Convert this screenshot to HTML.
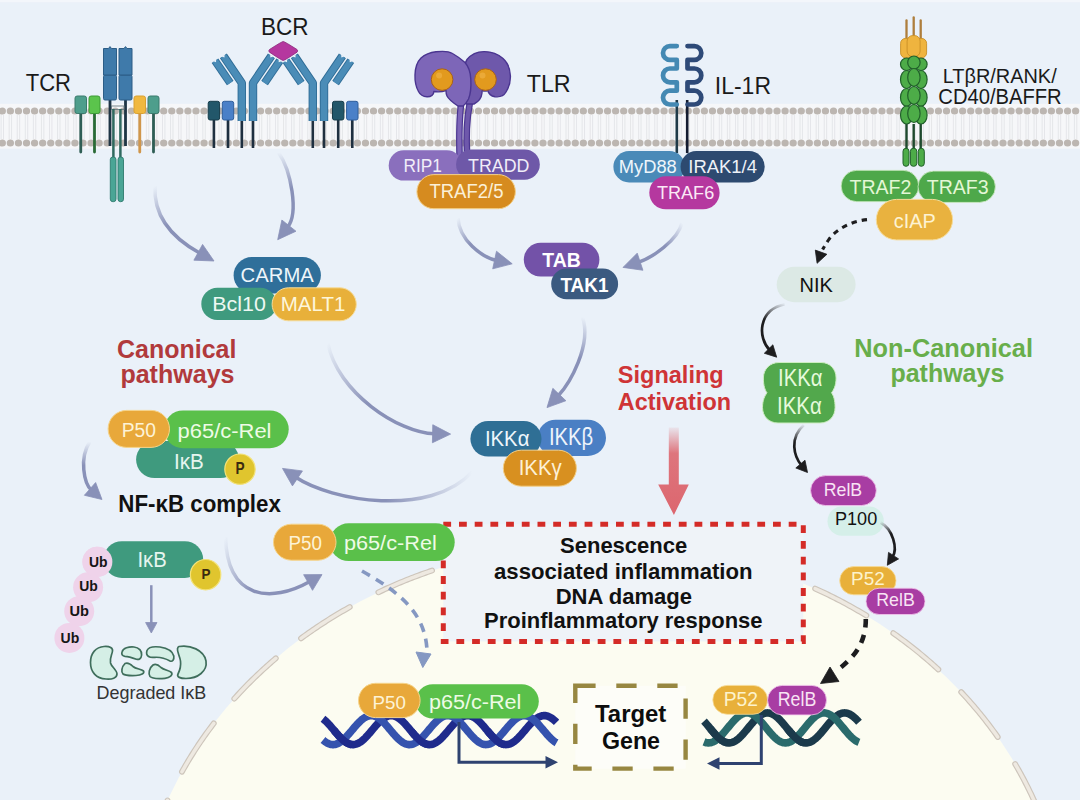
<!DOCTYPE html>
<html><head><meta charset="utf-8"><title>NF-kB signaling pathways</title>
<style>html,body{margin:0;padding:0;background:#eaf1f9;width:1080px;height:800px;overflow:hidden;font-family:'Liberation Sans', sans-serif;}</style>
</head><body>
<svg width="1080" height="800" viewBox="0 0 1080 800" style="display:block;font-family:'Liberation Sans', sans-serif"><defs><linearGradient id="ag1" gradientUnits="userSpaceOnUse" x1="155" y1="186" x2="198.24" y2="252.3"><stop offset="0.0" stop-color="#8991b8" stop-opacity="0.0"/><stop offset="0.5" stop-color="#8991b8" stop-opacity="1"/></linearGradient><linearGradient id="ag2" gradientUnits="userSpaceOnUse" x1="278.5" y1="152.4" x2="288.92" y2="225.62"><stop offset="0.0" stop-color="#8991b8" stop-opacity="0.0"/><stop offset="0.5" stop-color="#8991b8" stop-opacity="1"/></linearGradient><linearGradient id="ag3" gradientUnits="userSpaceOnUse" x1="458" y1="218" x2="494.6" y2="260.02"><stop offset="0.0" stop-color="#8991b8" stop-opacity="0.0"/><stop offset="0.5" stop-color="#8991b8" stop-opacity="1"/></linearGradient><linearGradient id="ag4" gradientUnits="userSpaceOnUse" x1="682" y1="222.9" x2="640.08" y2="261.71"><stop offset="0.0" stop-color="#8991b8" stop-opacity="0.0"/><stop offset="0.5" stop-color="#8991b8" stop-opacity="1"/></linearGradient><linearGradient id="ag5" gradientUnits="userSpaceOnUse" x1="582.5" y1="317" x2="559.38" y2="394.53"><stop offset="0.0" stop-color="#8991b8" stop-opacity="0.0"/><stop offset="0.5" stop-color="#8991b8" stop-opacity="1"/></linearGradient><linearGradient id="ag6" gradientUnits="userSpaceOnUse" x1="327.9" y1="343.3" x2="432.6" y2="433.74"><stop offset="0.0" stop-color="#8991b8" stop-opacity="0.0"/><stop offset="0.5" stop-color="#8991b8" stop-opacity="1"/></linearGradient><linearGradient id="ag7" gradientUnits="userSpaceOnUse" x1="472.2" y1="471.9" x2="297.45" y2="478.42"><stop offset="0.0" stop-color="#8991b8" stop-opacity="0.0"/><stop offset="0.5" stop-color="#8991b8" stop-opacity="1"/></linearGradient><linearGradient id="ag8" gradientUnits="userSpaceOnUse" x1="89.8" y1="441.7" x2="90.01" y2="488.9"><stop offset="0.0" stop-color="#8991b8" stop-opacity="0.0"/><stop offset="0.5" stop-color="#8991b8" stop-opacity="1"/></linearGradient><linearGradient id="ag9" gradientUnits="userSpaceOnUse" x1="225.5" y1="537" x2="308.09" y2="582.5"><stop offset="0.0" stop-color="#8991b8" stop-opacity="0.0"/><stop offset="0.5" stop-color="#8991b8" stop-opacity="1"/></linearGradient><linearGradient id="redg" x1="0" y1="427" x2="0" y2="515" gradientUnits="userSpaceOnUse"><stop offset="0" stop-color="#dd6a72" stop-opacity="0.08"/><stop offset="0.3" stop-color="#dd6a72" stop-opacity="0.92"/><stop offset="1" stop-color="#dc666e"/></linearGradient><linearGradient id="ag10" gradientUnits="userSpaceOnUse" x1="784.6" y1="304.2" x2="768.59" y2="349.05"><stop offset="0.0" stop-color="#1d1d1f" stop-opacity="0.05"/><stop offset="0.45" stop-color="#1d1d1f" stop-opacity="1"/></linearGradient><linearGradient id="ag11" gradientUnits="userSpaceOnUse" x1="803.8" y1="425" x2="800.4" y2="464.1"><stop offset="0.0" stop-color="#1d1d1f" stop-opacity="0.05"/><stop offset="0.45" stop-color="#1d1d1f" stop-opacity="1"/></linearGradient><linearGradient id="ag12" gradientUnits="userSpaceOnUse" x1="880.5" y1="522.5" x2="893.56" y2="555.65"><stop offset="0.0" stop-color="#1d1d1f" stop-opacity="0.05"/><stop offset="0.4" stop-color="#1d1d1f" stop-opacity="1"/></linearGradient></defs><rect width="1080" height="800" fill="#eaf1f9"/>
<rect width="1080" height="2.2" fill="#f3f6fb"/>
<ellipse cx="600.77" cy="949.98" rx="465.84" ry="407.07" fill="#fcfcf1"/>
<path d="M134.98,943.84 L135.03,941.41 L135.1,939.05 L135.18,936.62 L135.28,934.19 L135.4,931.76 L135.53,929.34 L135.67,926.97 L135.84,924.55 L136.02,922.12 L136.22,919.7 L136.43,917.34 L136.66,914.92 L136.91,912.5 L137.17,910.08 L137.45,907.73 L137.74,905.31 L138.06,902.9 L138.39,900.48 L138.72,898.14 L139.09,895.73 L139.46,893.32 L139.85,890.98 L140.26,888.57 L140.69,886.17" fill="none" stroke="#cdc5bb" stroke-width="5.8" stroke-linecap="round" stroke-linejoin="round"/>
<path d="M134.98,943.84 L135.03,941.41 L135.1,939.05 L135.18,936.62 L135.28,934.19 L135.4,931.76 L135.53,929.34 L135.67,926.97 L135.84,924.55 L136.02,922.12 L136.22,919.7 L136.43,917.34 L136.66,914.92 L136.91,912.5 L137.17,910.08 L137.45,907.73 L137.74,905.31 L138.06,902.9 L138.39,900.48 L138.72,898.14 L139.09,895.73 L139.46,893.32 L139.85,890.98 L140.26,888.57 L140.69,886.17" fill="none" stroke="#eee9e1" stroke-width="3.5" stroke-linecap="round" stroke-linejoin="round"/>
<path d="M147.82,854.89 L148.46,852.59 L149.13,850.23 L149.8,847.94 L150.51,845.59 L151.21,843.31 L151.93,841.02 L152.68,838.68 L153.43,836.41 L154.19,834.14 L154.99,831.81 L155.78,829.55 L156.59,827.29 L157.44,824.98 L158.28,822.73 L159.13,820.48 L160,818.24 L160.88,816.01 L161.8,813.72 L162.72,811.49 L163.65,809.27 L164.59,807.05 L165.55,804.84 L166.52,802.63 L167.51,800.42" fill="none" stroke="#cdc5bb" stroke-width="5.8" stroke-linecap="round" stroke-linejoin="round"/>
<path d="M147.82,854.89 L148.46,852.59 L149.13,850.23 L149.8,847.94 L150.51,845.59 L151.21,843.31 L151.93,841.02 L152.68,838.68 L153.43,836.41 L154.19,834.14 L154.99,831.81 L155.78,829.55 L156.59,827.29 L157.44,824.98 L158.28,822.73 L159.13,820.48 L160,818.24 L160.88,816.01 L161.8,813.72 L162.72,811.49 L163.65,809.27 L164.59,807.05 L165.55,804.84 L166.52,802.63 L167.51,800.42" fill="none" stroke="#eee9e1" stroke-width="3.5" stroke-linecap="round" stroke-linejoin="round"/>
<path d="M181.95,771.76 L183.14,769.63 L184.32,767.57 L185.54,765.46 L186.77,763.35 L187.99,761.31 L189.25,759.22 L190.49,757.19 L191.78,755.11 L193.05,753.09 L194.36,751.02 L195.66,749.02 L197,746.96 L198.32,744.97 L199.69,742.93 L201.04,740.95 L202.4,738.98 L203.81,736.96 L205.19,735 L206.59,733.05 L208,731.11 L209.46,729.11 L210.9,727.18 L212.34,725.26 L213.8,723.35" fill="none" stroke="#cdc5bb" stroke-width="5.8" stroke-linecap="round" stroke-linejoin="round"/>
<path d="M181.95,771.76 L183.14,769.63 L184.32,767.57 L185.54,765.46 L186.77,763.35 L187.99,761.31 L189.25,759.22 L190.49,757.19 L191.78,755.11 L193.05,753.09 L194.36,751.02 L195.66,749.02 L197,746.96 L198.32,744.97 L199.69,742.93 L201.04,740.95 L202.4,738.98 L203.81,736.96 L205.19,735 L206.59,733.05 L208,731.11 L209.46,729.11 L210.9,727.18 L212.34,725.26 L213.8,723.35" fill="none" stroke="#eee9e1" stroke-width="3.5" stroke-linecap="round" stroke-linejoin="round"/>
<path d="M234.3,698.67 L235.94,696.86 L237.58,695.06 L239.19,693.32 L240.86,691.54 L242.53,689.77 L244.18,688.05 L245.88,686.29 L247.54,684.59 L249.27,682.85 L250.95,681.16 L252.7,679.44 L254.4,677.77 L256.17,676.06 L257.9,674.41 L259.64,672.77 L261.44,671.09 L263.2,669.46 L264.97,667.84 L266.75,666.24 L268.59,664.59 L270.39,663 L272.2,661.42 L274.02,659.84 L275.85,658.28" fill="none" stroke="#cdc5bb" stroke-width="5.8" stroke-linecap="round" stroke-linejoin="round"/>
<path d="M234.3,698.67 L235.94,696.86 L237.58,695.06 L239.19,693.32 L240.86,691.54 L242.53,689.77 L244.18,688.05 L245.88,686.29 L247.54,684.59 L249.27,682.85 L250.95,681.16 L252.7,679.44 L254.4,677.77 L256.17,676.06 L257.9,674.41 L259.64,672.77 L261.44,671.09 L263.2,669.46 L264.97,667.84 L266.75,666.24 L268.59,664.59 L270.39,663 L272.2,661.42 L274.02,659.84 L275.85,658.28" fill="none" stroke="#eee9e1" stroke-width="3.5" stroke-linecap="round" stroke-linejoin="round"/>
<path d="M301.02,638.37 L302.99,636.94 L304.96,635.51 L306.94,634.1 L308.88,632.73 L310.88,631.33 L312.89,629.95 L314.85,628.61 L316.88,627.24 L318.85,625.92 L320.89,624.57 L322.89,623.27 L324.95,621.94 L326.96,620.65 L329.03,619.34 L331.06,618.08 L333.15,616.79 L335.19,615.54 L337.24,614.31 L339.35,613.05 L341.42,611.83 L343.49,610.63 L345.63,609.4 L347.71,608.21 L349.8,607.04" fill="none" stroke="#cdc5bb" stroke-width="5.8" stroke-linecap="round" stroke-linejoin="round"/>
<path d="M301.02,638.37 L302.99,636.94 L304.96,635.51 L306.94,634.1 L308.88,632.73 L310.88,631.33 L312.89,629.95 L314.85,628.61 L316.88,627.24 L318.85,625.92 L320.89,624.57 L322.89,623.27 L324.95,621.94 L326.96,620.65 L329.03,619.34 L331.06,618.08 L333.15,616.79 L335.19,615.54 L337.24,614.31 L339.35,613.05 L341.42,611.83 L343.49,610.63 L345.63,609.4 L347.71,608.21 L349.8,607.04" fill="none" stroke="#eee9e1" stroke-width="3.5" stroke-linecap="round" stroke-linejoin="round"/>
<path d="M378.34,592.31 L380.53,591.28 L382.72,590.26 L384.93,589.24 L387.13,588.24 L389.28,587.28 L391.5,586.3 L393.73,585.32 L395.96,584.36 L398.2,583.41 L400.44,582.47 L402.62,581.57 L404.88,580.65 L407.14,579.74 L409.34,578.87 L411.61,577.98 L413.88,577.1 L416.17,576.24 L418.39,575.41 L420.68,574.56 L422.91,573.75 L425.21,572.93 L427.52,572.11 L429.76,571.33 L432.08,570.54" fill="none" stroke="#cdc5bb" stroke-width="5.8" stroke-linecap="round" stroke-linejoin="round"/>
<path d="M378.34,592.31 L380.53,591.28 L382.72,590.26 L384.93,589.24 L387.13,588.24 L389.28,587.28 L391.5,586.3 L393.73,585.32 L395.96,584.36 L398.2,583.41 L400.44,582.47 L402.62,581.57 L404.88,580.65 L407.14,579.74 L409.34,578.87 L411.61,577.98 L413.88,577.1 L416.17,576.24 L418.39,575.41 L420.68,574.56 L422.91,573.75 L425.21,572.93 L427.52,572.11 L429.76,571.33 L432.08,570.54" fill="none" stroke="#eee9e1" stroke-width="3.5" stroke-linecap="round" stroke-linejoin="round"/>
<path d="M462.75,561.19 L465.12,560.55 L467.44,559.94 L469.75,559.34 L472.14,558.74 L474.46,558.16 L476.79,557.59 L479.19,557.02 L481.52,556.47 L483.86,555.94 L486.2,555.41 L488.61,554.89 L490.95,554.38 L493.3,553.89 L495.65,553.41 L498.08,552.92 L500.44,552.46 L502.8,552.01 L505.16,551.58 L507.52,551.15 L509.96,550.72 L512.33,550.31 L514.7,549.92 L517.08,549.53 L519.45,549.16" fill="none" stroke="#cdc5bb" stroke-width="5.8" stroke-linecap="round" stroke-linejoin="round"/>
<path d="M462.75,561.19 L465.12,560.55 L467.44,559.94 L469.75,559.34 L472.14,558.74 L474.46,558.16 L476.79,557.59 L479.19,557.02 L481.52,556.47 L483.86,555.94 L486.2,555.41 L488.61,554.89 L490.95,554.38 L493.3,553.89 L495.65,553.41 L498.08,552.92 L500.44,552.46 L502.8,552.01 L505.16,551.58 L507.52,551.15 L509.96,550.72 L512.33,550.31 L514.7,549.92 L517.08,549.53 L519.45,549.16" fill="none" stroke="#eee9e1" stroke-width="3.5" stroke-linecap="round" stroke-linejoin="round"/>
<path d="M551.32,545.21 L553.73,544.99 L556.13,544.78 L558.53,544.59 L560.94,544.4 L563.35,544.23 L565.75,544.06 L568.16,543.91 L570.57,543.77 L572.98,543.63 L575.39,543.51 L577.8,543.41 L580.29,543.3 L582.7,543.22 L585.11,543.14 L587.53,543.07 L589.94,543.02 L592.36,542.98 L594.77,542.94 L597.18,542.92 L599.6,542.91 L602.01,542.91 L604.43,542.92 L606.84,542.94 L609.26,542.98" fill="none" stroke="#cdc5bb" stroke-width="5.8" stroke-linecap="round" stroke-linejoin="round"/>
<path d="M551.32,545.21 L553.73,544.99 L556.13,544.78 L558.53,544.59 L560.94,544.4 L563.35,544.23 L565.75,544.06 L568.16,543.91 L570.57,543.77 L572.98,543.63 L575.39,543.51 L577.8,543.41 L580.29,543.3 L582.7,543.22 L585.11,543.14 L587.53,543.07 L589.94,543.02 L592.36,542.98 L594.77,542.94 L597.18,542.92 L599.6,542.91 L602.01,542.91 L604.43,542.92 L606.84,542.94 L609.26,542.98" fill="none" stroke="#eee9e1" stroke-width="3.5" stroke-linecap="round" stroke-linejoin="round"/>
<path d="M641.33,544.46 L643.74,544.65 L646.14,544.85 L648.54,545.06 L650.94,545.28 L653.34,545.51 L655.74,545.75 L658.14,546.01 L660.53,546.27 L662.93,546.55 L665.32,546.84 L667.78,547.14 L670.17,547.45 L672.56,547.77 L674.94,548.1 L677.33,548.44 L679.71,548.8 L682.09,549.16 L684.46,549.53 L686.91,549.93 L689.28,550.33 L691.65,550.73 L694.02,551.15 L696.38,551.58 L698.82,552.03" fill="none" stroke="#cdc5bb" stroke-width="5.8" stroke-linecap="round" stroke-linejoin="round"/>
<path d="M641.33,544.46 L643.74,544.65 L646.14,544.85 L648.54,545.06 L650.94,545.28 L653.34,545.51 L655.74,545.75 L658.14,546.01 L660.53,546.27 L662.93,546.55 L665.32,546.84 L667.78,547.14 L670.17,547.45 L672.56,547.77 L674.94,548.1 L677.33,548.44 L679.71,548.8 L682.09,549.16 L684.46,549.53 L686.91,549.93 L689.28,550.33 L691.65,550.73 L694.02,551.15 L696.38,551.58 L698.82,552.03" fill="none" stroke="#eee9e1" stroke-width="3.5" stroke-linecap="round" stroke-linejoin="round"/>
<path d="M730.1,558.91 L732.49,559.52 L734.81,560.12 L737.12,560.74 L739.49,561.38 L741.8,562.01 L744.17,562.68 L746.46,563.33 L748.75,564 L751.11,564.69 L753.39,565.38 L755.74,566.1 L758.02,566.8 L760.36,567.54 L762.62,568.27 L764.95,569.03 L767.21,569.78 L769.53,570.56 L771.78,571.33 L774.09,572.13 L776.33,572.93 L778.63,573.75 L780.93,574.59 L783.15,575.41 L785.44,576.26" fill="none" stroke="#cdc5bb" stroke-width="5.8" stroke-linecap="round" stroke-linejoin="round"/>
<path d="M730.1,558.91 L732.49,559.52 L734.81,560.12 L737.12,560.74 L739.49,561.38 L741.8,562.01 L744.17,562.68 L746.46,563.33 L748.75,564 L751.11,564.69 L753.39,565.38 L755.74,566.1 L758.02,566.8 L760.36,567.54 L762.62,568.27 L764.95,569.03 L767.21,569.78 L769.53,570.56 L771.78,571.33 L774.09,572.13 L776.33,572.93 L778.63,573.75 L780.93,574.59 L783.15,575.41 L785.44,576.26" fill="none" stroke="#eee9e1" stroke-width="3.5" stroke-linecap="round" stroke-linejoin="round"/>
<path d="M815.12,588.56 L817.26,589.54 L819.46,590.56 L821.66,591.58 L823.84,592.62 L826.02,593.66 L828.2,594.72 L830.37,595.79 L832.53,596.86 L834.68,597.95 L836.83,599.05 L838.97,600.15 L841.17,601.3 L843.3,602.43 L845.42,603.57 L847.53,604.71 L849.64,605.87 L851.74,607.04 L853.89,608.25 L855.98,609.43 L858.05,610.63 L860.12,611.83 L862.25,613.08 L864.3,614.31 L866.35,615.54" fill="none" stroke="#cdc5bb" stroke-width="5.8" stroke-linecap="round" stroke-linejoin="round"/>
<path d="M815.12,588.56 L817.26,589.54 L819.46,590.56 L821.66,591.58 L823.84,592.62 L826.02,593.66 L828.2,594.72 L830.37,595.79 L832.53,596.86 L834.68,597.95 L836.83,599.05 L838.97,600.15 L841.17,601.3 L843.3,602.43 L845.42,603.57 L847.53,604.71 L849.64,605.87 L851.74,607.04 L853.89,608.25 L855.98,609.43 L858.05,610.63 L860.12,611.83 L862.25,613.08 L864.3,614.31 L866.35,615.54" fill="none" stroke="#eee9e1" stroke-width="3.5" stroke-linecap="round" stroke-linejoin="round"/>
<path d="M893.23,633.13 L895.22,634.54 L897.14,635.92 L899.11,637.35 L901.08,638.79 L903.03,640.23 L904.97,641.69 L906.85,643.11 L908.78,644.59 L910.7,646.07 L912.6,647.57 L914.5,649.07 L916.39,650.58 L918.27,652.1 L920.14,653.63 L922,655.17 L923.85,656.72 L925.69,658.28 L927.52,659.84 L929.34,661.42 L931.2,663.04 L933,664.64 L934.79,666.24 L936.57,667.84 L938.39,669.51" fill="none" stroke="#cdc5bb" stroke-width="5.8" stroke-linecap="round" stroke-linejoin="round"/>
<path d="M893.23,633.13 L895.22,634.54 L897.14,635.92 L899.11,637.35 L901.08,638.79 L903.03,640.23 L904.97,641.69 L906.85,643.11 L908.78,644.59 L910.7,646.07 L912.6,647.57 L914.5,649.07 L916.39,650.58 L918.27,652.1 L920.14,653.63 L922,655.17 L923.85,656.72 L925.69,658.28 L927.52,659.84 L929.34,661.42 L931.2,663.04 L933,664.64 L934.79,666.24 L936.57,667.84 L938.39,669.51" fill="none" stroke="#eee9e1" stroke-width="3.5" stroke-linecap="round" stroke-linejoin="round"/>
<path d="M961.19,692.08 L962.81,693.82 L964.46,695.61 L966.1,697.41 L967.69,699.17 L969.3,700.99 L970.91,702.81 L972.5,704.65 L974.08,706.49 L975.65,708.34 L977.17,710.14 L978.71,712.01 L980.25,713.88 L981.77,715.76 L983.28,717.64 L984.78,719.54 L986.26,721.44 L987.74,723.35 L989.24,725.31 L990.68,727.24 L992.12,729.17 L993.54,731.11 L994.95,733.05 L996.39,735.06 L997.77,737.01" fill="none" stroke="#cdc5bb" stroke-width="5.8" stroke-linecap="round" stroke-linejoin="round"/>
<path d="M961.19,692.08 L962.81,693.82 L964.46,695.61 L966.1,697.41 L967.69,699.17 L969.3,700.99 L970.91,702.81 L972.5,704.65 L974.08,706.49 L975.65,708.34 L977.17,710.14 L978.71,712.01 L980.25,713.88 L981.77,715.76 L983.28,717.64 L984.78,719.54 L986.26,721.44 L987.74,723.35 L989.24,725.31 L990.68,727.24 L992.12,729.17 L993.54,731.11 L994.95,733.05 L996.39,735.06 L997.77,737.01" fill="none" stroke="#eee9e1" stroke-width="3.5" stroke-linecap="round" stroke-linejoin="round"/>
<path d="M1015.14,763.98 L1016.37,766.09 L1017.55,768.14 L1018.75,770.26 L1019.94,772.39 L1021.11,774.52 L1022.24,776.6 L1023.39,778.74 L1024.52,780.89 L1025.64,783.05 L1026.74,785.21 L1027.83,787.37 L1028.88,789.49 L1029.94,791.66 L1030.98,793.85 L1032.01,796.03 L1033.03,798.23 L1034.03,800.42 L1035.02,802.63 L1035.99,804.84 L1036.95,807.05 L1037.92,809.33 L1038.85,811.55 L1039.76,813.78 L1040.66,816.01" fill="none" stroke="#cdc5bb" stroke-width="5.8" stroke-linecap="round" stroke-linejoin="round"/>
<path d="M1015.14,763.98 L1016.37,766.09 L1017.55,768.14 L1018.75,770.26 L1019.94,772.39 L1021.11,774.52 L1022.24,776.6 L1023.39,778.74 L1024.52,780.89 L1025.64,783.05 L1026.74,785.21 L1027.83,787.37 L1028.88,789.49 L1029.94,791.66 L1030.98,793.85 L1032.01,796.03 L1033.03,798.23 L1034.03,800.42 L1035.02,802.63 L1035.99,804.84 L1036.95,807.05 L1037.92,809.33 L1038.85,811.55 L1039.76,813.78 L1040.66,816.01" fill="none" stroke="#eee9e1" stroke-width="3.5" stroke-linecap="round" stroke-linejoin="round"/>
<path d="M1051.26,846.33 L1051.94,848.62 L1052.6,850.92 L1053.27,853.27 L1053.91,855.57 L1054.55,857.94 L1055.15,860.24 L1055.76,862.62 L1056.33,864.93 L1056.9,867.31 L1057.44,869.62 L1057.98,872.01 L1058.51,874.39 L1059,876.72 L1059.5,879.11 L1059.96,881.44 L1060.42,883.84 L1060.86,886.24 L1061.28,888.57 L1061.69,890.98 L1062.09,893.38 L1062.45,895.73 L1062.82,898.14 L1063.16,900.55 L1063.49,902.96" fill="none" stroke="#cdc5bb" stroke-width="5.8" stroke-linecap="round" stroke-linejoin="round"/>
<path d="M1051.26,846.33 L1051.94,848.62 L1052.6,850.92 L1053.27,853.27 L1053.91,855.57 L1054.55,857.94 L1055.15,860.24 L1055.76,862.62 L1056.33,864.93 L1056.9,867.31 L1057.44,869.62 L1057.98,872.01 L1058.51,874.39 L1059,876.72 L1059.5,879.11 L1059.96,881.44 L1060.42,883.84 L1060.86,886.24 L1061.28,888.57 L1061.69,890.98 L1062.09,893.38 L1062.45,895.73 L1062.82,898.14 L1063.16,900.55 L1063.49,902.96" fill="none" stroke="#eee9e1" stroke-width="3.5" stroke-linecap="round" stroke-linejoin="round"/>
<rect x="0" y="103.8" width="1080" height="44.9" fill="#f6f7f9"/>
<path d="M1.1,115V139M3.5,115V139M9.17,115V139M11.57,115V139M17.24,115V139M19.64,115V139M25.31,115V139M27.71,115V139M33.38,115V139M35.78,115V139M41.45,115V139M43.85,115V139M49.52,115V139M51.92,115V139M57.59,115V139M59.99,115V139M65.66,115V139M68.06,115V139M73.73,115V139M76.13,115V139M81.8,115V139M84.2,115V139M89.87,115V139M92.27,115V139M97.94,115V139M100.34,115V139M106.01,115V139M108.41,115V139M114.08,115V139M116.48,115V139M122.15,115V139M124.55,115V139M130.22,115V139M132.62,115V139M138.29,115V139M140.69,115V139M146.36,115V139M148.76,115V139M154.43,115V139M156.83,115V139M162.5,115V139M164.9,115V139M170.57,115V139M172.97,115V139M178.64,115V139M181.04,115V139M186.71,115V139M189.11,115V139M194.78,115V139M197.18,115V139M202.85,115V139M205.25,115V139M210.92,115V139M213.32,115V139M218.99,115V139M221.39,115V139M227.06,115V139M229.46,115V139M235.13,115V139M237.53,115V139M243.2,115V139M245.6,115V139M251.27,115V139M253.67,115V139M259.34,115V139M261.74,115V139M267.41,115V139M269.81,115V139M275.48,115V139M277.88,115V139M283.55,115V139M285.95,115V139M291.62,115V139M294.02,115V139M299.69,115V139M302.09,115V139M307.76,115V139M310.16,115V139M315.83,115V139M318.23,115V139M323.9,115V139M326.3,115V139M331.97,115V139M334.37,115V139M340.04,115V139M342.44,115V139M348.11,115V139M350.51,115V139M356.18,115V139M358.58,115V139M364.25,115V139M366.65,115V139M372.32,115V139M374.72,115V139M380.39,115V139M382.79,115V139M388.46,115V139M390.86,115V139M396.53,115V139M398.93,115V139M404.6,115V139M407,115V139M412.67,115V139M415.07,115V139M420.74,115V139M423.14,115V139M428.81,115V139M431.21,115V139M436.88,115V139M439.28,115V139M444.95,115V139M447.35,115V139M453.02,115V139M455.42,115V139M461.09,115V139M463.49,115V139M469.16,115V139M471.56,115V139M477.23,115V139M479.63,115V139M485.3,115V139M487.7,115V139M493.37,115V139M495.77,115V139M501.44,115V139M503.84,115V139M509.51,115V139M511.91,115V139M517.58,115V139M519.98,115V139M525.65,115V139M528.05,115V139M533.72,115V139M536.12,115V139M541.79,115V139M544.19,115V139M549.86,115V139M552.26,115V139M557.93,115V139M560.33,115V139M566,115V139M568.4,115V139M574.07,115V139M576.47,115V139M582.14,115V139M584.54,115V139M590.21,115V139M592.61,115V139M598.28,115V139M600.68,115V139M606.35,115V139M608.75,115V139M614.42,115V139M616.82,115V139M622.49,115V139M624.89,115V139M630.56,115V139M632.96,115V139M638.63,115V139M641.03,115V139M646.7,115V139M649.1,115V139M654.77,115V139M657.17,115V139M662.84,115V139M665.24,115V139M670.91,115V139M673.31,115V139M678.98,115V139M681.38,115V139M687.05,115V139M689.45,115V139M695.12,115V139M697.52,115V139M703.19,115V139M705.59,115V139M711.26,115V139M713.66,115V139M719.33,115V139M721.73,115V139M727.4,115V139M729.8,115V139M735.47,115V139M737.87,115V139M743.54,115V139M745.94,115V139M751.61,115V139M754.01,115V139M759.68,115V139M762.08,115V139M767.75,115V139M770.15,115V139M775.82,115V139M778.22,115V139M783.89,115V139M786.29,115V139M791.96,115V139M794.36,115V139M800.03,115V139M802.43,115V139M808.1,115V139M810.5,115V139M816.17,115V139M818.57,115V139M824.24,115V139M826.64,115V139M832.31,115V139M834.71,115V139M840.38,115V139M842.78,115V139M848.45,115V139M850.85,115V139M856.52,115V139M858.92,115V139M864.59,115V139M866.99,115V139M872.66,115V139M875.06,115V139M880.73,115V139M883.13,115V139M888.8,115V139M891.2,115V139M896.87,115V139M899.27,115V139M904.94,115V139M907.34,115V139M913.01,115V139M915.41,115V139M921.08,115V139M923.48,115V139M929.15,115V139M931.55,115V139M937.22,115V139M939.62,115V139M945.29,115V139M947.69,115V139M953.36,115V139M955.76,115V139M961.43,115V139M963.83,115V139M969.5,115V139M971.9,115V139M977.57,115V139M979.97,115V139M985.64,115V139M988.04,115V139M993.71,115V139M996.11,115V139M1001.78,115V139M1004.18,115V139M1009.85,115V139M1012.25,115V139M1017.92,115V139M1020.32,115V139M1025.99,115V139M1028.39,115V139M1034.06,115V139M1036.46,115V139M1042.13,115V139M1044.53,115V139M1050.2,115V139M1052.6,115V139M1058.27,115V139M1060.67,115V139M1066.34,115V139M1068.74,115V139M1074.41,115V139M1076.81,115V139" stroke="#dfe0e4" stroke-width="0.75" fill="none"/>
<g fill="#bcb6b1"><ellipse cx="2.3" cy="111.1" rx="3.65" ry="3.5"/><ellipse cx="2.3" cy="143.1" rx="3.65" ry="3.5"/><ellipse cx="10.37" cy="111.1" rx="3.65" ry="3.5"/><ellipse cx="10.37" cy="143.1" rx="3.65" ry="3.5"/><ellipse cx="18.44" cy="111.1" rx="3.65" ry="3.5"/><ellipse cx="18.44" cy="143.1" rx="3.65" ry="3.5"/><ellipse cx="26.51" cy="111.1" rx="3.65" ry="3.5"/><ellipse cx="26.51" cy="143.1" rx="3.65" ry="3.5"/><ellipse cx="34.58" cy="111.1" rx="3.65" ry="3.5"/><ellipse cx="34.58" cy="143.1" rx="3.65" ry="3.5"/><ellipse cx="42.65" cy="111.1" rx="3.65" ry="3.5"/><ellipse cx="42.65" cy="143.1" rx="3.65" ry="3.5"/><ellipse cx="50.72" cy="111.1" rx="3.65" ry="3.5"/><ellipse cx="50.72" cy="143.1" rx="3.65" ry="3.5"/><ellipse cx="58.79" cy="111.1" rx="3.65" ry="3.5"/><ellipse cx="58.79" cy="143.1" rx="3.65" ry="3.5"/><ellipse cx="66.86" cy="111.1" rx="3.65" ry="3.5"/><ellipse cx="66.86" cy="143.1" rx="3.65" ry="3.5"/><ellipse cx="74.93" cy="111.1" rx="3.65" ry="3.5"/><ellipse cx="74.93" cy="143.1" rx="3.65" ry="3.5"/><ellipse cx="83" cy="111.1" rx="3.65" ry="3.5"/><ellipse cx="83" cy="143.1" rx="3.65" ry="3.5"/><ellipse cx="91.07" cy="111.1" rx="3.65" ry="3.5"/><ellipse cx="91.07" cy="143.1" rx="3.65" ry="3.5"/><ellipse cx="99.14" cy="111.1" rx="3.65" ry="3.5"/><ellipse cx="99.14" cy="143.1" rx="3.65" ry="3.5"/><ellipse cx="107.21" cy="111.1" rx="3.65" ry="3.5"/><ellipse cx="107.21" cy="143.1" rx="3.65" ry="3.5"/><ellipse cx="115.28" cy="111.1" rx="3.65" ry="3.5"/><ellipse cx="115.28" cy="143.1" rx="3.65" ry="3.5"/><ellipse cx="123.35" cy="111.1" rx="3.65" ry="3.5"/><ellipse cx="123.35" cy="143.1" rx="3.65" ry="3.5"/><ellipse cx="131.42" cy="111.1" rx="3.65" ry="3.5"/><ellipse cx="131.42" cy="143.1" rx="3.65" ry="3.5"/><ellipse cx="139.49" cy="111.1" rx="3.65" ry="3.5"/><ellipse cx="139.49" cy="143.1" rx="3.65" ry="3.5"/><ellipse cx="147.56" cy="111.1" rx="3.65" ry="3.5"/><ellipse cx="147.56" cy="143.1" rx="3.65" ry="3.5"/><ellipse cx="155.63" cy="111.1" rx="3.65" ry="3.5"/><ellipse cx="155.63" cy="143.1" rx="3.65" ry="3.5"/><ellipse cx="163.7" cy="111.1" rx="3.65" ry="3.5"/><ellipse cx="163.7" cy="143.1" rx="3.65" ry="3.5"/><ellipse cx="171.77" cy="111.1" rx="3.65" ry="3.5"/><ellipse cx="171.77" cy="143.1" rx="3.65" ry="3.5"/><ellipse cx="179.84" cy="111.1" rx="3.65" ry="3.5"/><ellipse cx="179.84" cy="143.1" rx="3.65" ry="3.5"/><ellipse cx="187.91" cy="111.1" rx="3.65" ry="3.5"/><ellipse cx="187.91" cy="143.1" rx="3.65" ry="3.5"/><ellipse cx="195.98" cy="111.1" rx="3.65" ry="3.5"/><ellipse cx="195.98" cy="143.1" rx="3.65" ry="3.5"/><ellipse cx="204.05" cy="111.1" rx="3.65" ry="3.5"/><ellipse cx="204.05" cy="143.1" rx="3.65" ry="3.5"/><ellipse cx="212.12" cy="111.1" rx="3.65" ry="3.5"/><ellipse cx="212.12" cy="143.1" rx="3.65" ry="3.5"/><ellipse cx="220.19" cy="111.1" rx="3.65" ry="3.5"/><ellipse cx="220.19" cy="143.1" rx="3.65" ry="3.5"/><ellipse cx="228.26" cy="111.1" rx="3.65" ry="3.5"/><ellipse cx="228.26" cy="143.1" rx="3.65" ry="3.5"/><ellipse cx="236.33" cy="111.1" rx="3.65" ry="3.5"/><ellipse cx="236.33" cy="143.1" rx="3.65" ry="3.5"/><ellipse cx="244.4" cy="111.1" rx="3.65" ry="3.5"/><ellipse cx="244.4" cy="143.1" rx="3.65" ry="3.5"/><ellipse cx="252.47" cy="111.1" rx="3.65" ry="3.5"/><ellipse cx="252.47" cy="143.1" rx="3.65" ry="3.5"/><ellipse cx="260.54" cy="111.1" rx="3.65" ry="3.5"/><ellipse cx="260.54" cy="143.1" rx="3.65" ry="3.5"/><ellipse cx="268.61" cy="111.1" rx="3.65" ry="3.5"/><ellipse cx="268.61" cy="143.1" rx="3.65" ry="3.5"/><ellipse cx="276.68" cy="111.1" rx="3.65" ry="3.5"/><ellipse cx="276.68" cy="143.1" rx="3.65" ry="3.5"/><ellipse cx="284.75" cy="111.1" rx="3.65" ry="3.5"/><ellipse cx="284.75" cy="143.1" rx="3.65" ry="3.5"/><ellipse cx="292.82" cy="111.1" rx="3.65" ry="3.5"/><ellipse cx="292.82" cy="143.1" rx="3.65" ry="3.5"/><ellipse cx="300.89" cy="111.1" rx="3.65" ry="3.5"/><ellipse cx="300.89" cy="143.1" rx="3.65" ry="3.5"/><ellipse cx="308.96" cy="111.1" rx="3.65" ry="3.5"/><ellipse cx="308.96" cy="143.1" rx="3.65" ry="3.5"/><ellipse cx="317.03" cy="111.1" rx="3.65" ry="3.5"/><ellipse cx="317.03" cy="143.1" rx="3.65" ry="3.5"/><ellipse cx="325.1" cy="111.1" rx="3.65" ry="3.5"/><ellipse cx="325.1" cy="143.1" rx="3.65" ry="3.5"/><ellipse cx="333.17" cy="111.1" rx="3.65" ry="3.5"/><ellipse cx="333.17" cy="143.1" rx="3.65" ry="3.5"/><ellipse cx="341.24" cy="111.1" rx="3.65" ry="3.5"/><ellipse cx="341.24" cy="143.1" rx="3.65" ry="3.5"/><ellipse cx="349.31" cy="111.1" rx="3.65" ry="3.5"/><ellipse cx="349.31" cy="143.1" rx="3.65" ry="3.5"/><ellipse cx="357.38" cy="111.1" rx="3.65" ry="3.5"/><ellipse cx="357.38" cy="143.1" rx="3.65" ry="3.5"/><ellipse cx="365.45" cy="111.1" rx="3.65" ry="3.5"/><ellipse cx="365.45" cy="143.1" rx="3.65" ry="3.5"/><ellipse cx="373.52" cy="111.1" rx="3.65" ry="3.5"/><ellipse cx="373.52" cy="143.1" rx="3.65" ry="3.5"/><ellipse cx="381.59" cy="111.1" rx="3.65" ry="3.5"/><ellipse cx="381.59" cy="143.1" rx="3.65" ry="3.5"/><ellipse cx="389.66" cy="111.1" rx="3.65" ry="3.5"/><ellipse cx="389.66" cy="143.1" rx="3.65" ry="3.5"/><ellipse cx="397.73" cy="111.1" rx="3.65" ry="3.5"/><ellipse cx="397.73" cy="143.1" rx="3.65" ry="3.5"/><ellipse cx="405.8" cy="111.1" rx="3.65" ry="3.5"/><ellipse cx="405.8" cy="143.1" rx="3.65" ry="3.5"/><ellipse cx="413.87" cy="111.1" rx="3.65" ry="3.5"/><ellipse cx="413.87" cy="143.1" rx="3.65" ry="3.5"/><ellipse cx="421.94" cy="111.1" rx="3.65" ry="3.5"/><ellipse cx="421.94" cy="143.1" rx="3.65" ry="3.5"/><ellipse cx="430.01" cy="111.1" rx="3.65" ry="3.5"/><ellipse cx="430.01" cy="143.1" rx="3.65" ry="3.5"/><ellipse cx="438.08" cy="111.1" rx="3.65" ry="3.5"/><ellipse cx="438.08" cy="143.1" rx="3.65" ry="3.5"/><ellipse cx="446.15" cy="111.1" rx="3.65" ry="3.5"/><ellipse cx="446.15" cy="143.1" rx="3.65" ry="3.5"/><ellipse cx="454.22" cy="111.1" rx="3.65" ry="3.5"/><ellipse cx="454.22" cy="143.1" rx="3.65" ry="3.5"/><ellipse cx="462.29" cy="111.1" rx="3.65" ry="3.5"/><ellipse cx="462.29" cy="143.1" rx="3.65" ry="3.5"/><ellipse cx="470.36" cy="111.1" rx="3.65" ry="3.5"/><ellipse cx="470.36" cy="143.1" rx="3.65" ry="3.5"/><ellipse cx="478.43" cy="111.1" rx="3.65" ry="3.5"/><ellipse cx="478.43" cy="143.1" rx="3.65" ry="3.5"/><ellipse cx="486.5" cy="111.1" rx="3.65" ry="3.5"/><ellipse cx="486.5" cy="143.1" rx="3.65" ry="3.5"/><ellipse cx="494.57" cy="111.1" rx="3.65" ry="3.5"/><ellipse cx="494.57" cy="143.1" rx="3.65" ry="3.5"/><ellipse cx="502.64" cy="111.1" rx="3.65" ry="3.5"/><ellipse cx="502.64" cy="143.1" rx="3.65" ry="3.5"/><ellipse cx="510.71" cy="111.1" rx="3.65" ry="3.5"/><ellipse cx="510.71" cy="143.1" rx="3.65" ry="3.5"/><ellipse cx="518.78" cy="111.1" rx="3.65" ry="3.5"/><ellipse cx="518.78" cy="143.1" rx="3.65" ry="3.5"/><ellipse cx="526.85" cy="111.1" rx="3.65" ry="3.5"/><ellipse cx="526.85" cy="143.1" rx="3.65" ry="3.5"/><ellipse cx="534.92" cy="111.1" rx="3.65" ry="3.5"/><ellipse cx="534.92" cy="143.1" rx="3.65" ry="3.5"/><ellipse cx="542.99" cy="111.1" rx="3.65" ry="3.5"/><ellipse cx="542.99" cy="143.1" rx="3.65" ry="3.5"/><ellipse cx="551.06" cy="111.1" rx="3.65" ry="3.5"/><ellipse cx="551.06" cy="143.1" rx="3.65" ry="3.5"/><ellipse cx="559.13" cy="111.1" rx="3.65" ry="3.5"/><ellipse cx="559.13" cy="143.1" rx="3.65" ry="3.5"/><ellipse cx="567.2" cy="111.1" rx="3.65" ry="3.5"/><ellipse cx="567.2" cy="143.1" rx="3.65" ry="3.5"/><ellipse cx="575.27" cy="111.1" rx="3.65" ry="3.5"/><ellipse cx="575.27" cy="143.1" rx="3.65" ry="3.5"/><ellipse cx="583.34" cy="111.1" rx="3.65" ry="3.5"/><ellipse cx="583.34" cy="143.1" rx="3.65" ry="3.5"/><ellipse cx="591.41" cy="111.1" rx="3.65" ry="3.5"/><ellipse cx="591.41" cy="143.1" rx="3.65" ry="3.5"/><ellipse cx="599.48" cy="111.1" rx="3.65" ry="3.5"/><ellipse cx="599.48" cy="143.1" rx="3.65" ry="3.5"/><ellipse cx="607.55" cy="111.1" rx="3.65" ry="3.5"/><ellipse cx="607.55" cy="143.1" rx="3.65" ry="3.5"/><ellipse cx="615.62" cy="111.1" rx="3.65" ry="3.5"/><ellipse cx="615.62" cy="143.1" rx="3.65" ry="3.5"/><ellipse cx="623.69" cy="111.1" rx="3.65" ry="3.5"/><ellipse cx="623.69" cy="143.1" rx="3.65" ry="3.5"/><ellipse cx="631.76" cy="111.1" rx="3.65" ry="3.5"/><ellipse cx="631.76" cy="143.1" rx="3.65" ry="3.5"/><ellipse cx="639.83" cy="111.1" rx="3.65" ry="3.5"/><ellipse cx="639.83" cy="143.1" rx="3.65" ry="3.5"/><ellipse cx="647.9" cy="111.1" rx="3.65" ry="3.5"/><ellipse cx="647.9" cy="143.1" rx="3.65" ry="3.5"/><ellipse cx="655.97" cy="111.1" rx="3.65" ry="3.5"/><ellipse cx="655.97" cy="143.1" rx="3.65" ry="3.5"/><ellipse cx="664.04" cy="111.1" rx="3.65" ry="3.5"/><ellipse cx="664.04" cy="143.1" rx="3.65" ry="3.5"/><ellipse cx="672.11" cy="111.1" rx="3.65" ry="3.5"/><ellipse cx="672.11" cy="143.1" rx="3.65" ry="3.5"/><ellipse cx="680.18" cy="111.1" rx="3.65" ry="3.5"/><ellipse cx="680.18" cy="143.1" rx="3.65" ry="3.5"/><ellipse cx="688.25" cy="111.1" rx="3.65" ry="3.5"/><ellipse cx="688.25" cy="143.1" rx="3.65" ry="3.5"/><ellipse cx="696.32" cy="111.1" rx="3.65" ry="3.5"/><ellipse cx="696.32" cy="143.1" rx="3.65" ry="3.5"/><ellipse cx="704.39" cy="111.1" rx="3.65" ry="3.5"/><ellipse cx="704.39" cy="143.1" rx="3.65" ry="3.5"/><ellipse cx="712.46" cy="111.1" rx="3.65" ry="3.5"/><ellipse cx="712.46" cy="143.1" rx="3.65" ry="3.5"/><ellipse cx="720.53" cy="111.1" rx="3.65" ry="3.5"/><ellipse cx="720.53" cy="143.1" rx="3.65" ry="3.5"/><ellipse cx="728.6" cy="111.1" rx="3.65" ry="3.5"/><ellipse cx="728.6" cy="143.1" rx="3.65" ry="3.5"/><ellipse cx="736.67" cy="111.1" rx="3.65" ry="3.5"/><ellipse cx="736.67" cy="143.1" rx="3.65" ry="3.5"/><ellipse cx="744.74" cy="111.1" rx="3.65" ry="3.5"/><ellipse cx="744.74" cy="143.1" rx="3.65" ry="3.5"/><ellipse cx="752.81" cy="111.1" rx="3.65" ry="3.5"/><ellipse cx="752.81" cy="143.1" rx="3.65" ry="3.5"/><ellipse cx="760.88" cy="111.1" rx="3.65" ry="3.5"/><ellipse cx="760.88" cy="143.1" rx="3.65" ry="3.5"/><ellipse cx="768.95" cy="111.1" rx="3.65" ry="3.5"/><ellipse cx="768.95" cy="143.1" rx="3.65" ry="3.5"/><ellipse cx="777.02" cy="111.1" rx="3.65" ry="3.5"/><ellipse cx="777.02" cy="143.1" rx="3.65" ry="3.5"/><ellipse cx="785.09" cy="111.1" rx="3.65" ry="3.5"/><ellipse cx="785.09" cy="143.1" rx="3.65" ry="3.5"/><ellipse cx="793.16" cy="111.1" rx="3.65" ry="3.5"/><ellipse cx="793.16" cy="143.1" rx="3.65" ry="3.5"/><ellipse cx="801.23" cy="111.1" rx="3.65" ry="3.5"/><ellipse cx="801.23" cy="143.1" rx="3.65" ry="3.5"/><ellipse cx="809.3" cy="111.1" rx="3.65" ry="3.5"/><ellipse cx="809.3" cy="143.1" rx="3.65" ry="3.5"/><ellipse cx="817.37" cy="111.1" rx="3.65" ry="3.5"/><ellipse cx="817.37" cy="143.1" rx="3.65" ry="3.5"/><ellipse cx="825.44" cy="111.1" rx="3.65" ry="3.5"/><ellipse cx="825.44" cy="143.1" rx="3.65" ry="3.5"/><ellipse cx="833.51" cy="111.1" rx="3.65" ry="3.5"/><ellipse cx="833.51" cy="143.1" rx="3.65" ry="3.5"/><ellipse cx="841.58" cy="111.1" rx="3.65" ry="3.5"/><ellipse cx="841.58" cy="143.1" rx="3.65" ry="3.5"/><ellipse cx="849.65" cy="111.1" rx="3.65" ry="3.5"/><ellipse cx="849.65" cy="143.1" rx="3.65" ry="3.5"/><ellipse cx="857.72" cy="111.1" rx="3.65" ry="3.5"/><ellipse cx="857.72" cy="143.1" rx="3.65" ry="3.5"/><ellipse cx="865.79" cy="111.1" rx="3.65" ry="3.5"/><ellipse cx="865.79" cy="143.1" rx="3.65" ry="3.5"/><ellipse cx="873.86" cy="111.1" rx="3.65" ry="3.5"/><ellipse cx="873.86" cy="143.1" rx="3.65" ry="3.5"/><ellipse cx="881.93" cy="111.1" rx="3.65" ry="3.5"/><ellipse cx="881.93" cy="143.1" rx="3.65" ry="3.5"/><ellipse cx="890" cy="111.1" rx="3.65" ry="3.5"/><ellipse cx="890" cy="143.1" rx="3.65" ry="3.5"/><ellipse cx="898.07" cy="111.1" rx="3.65" ry="3.5"/><ellipse cx="898.07" cy="143.1" rx="3.65" ry="3.5"/><ellipse cx="906.14" cy="111.1" rx="3.65" ry="3.5"/><ellipse cx="906.14" cy="143.1" rx="3.65" ry="3.5"/><ellipse cx="914.21" cy="111.1" rx="3.65" ry="3.5"/><ellipse cx="914.21" cy="143.1" rx="3.65" ry="3.5"/><ellipse cx="922.28" cy="111.1" rx="3.65" ry="3.5"/><ellipse cx="922.28" cy="143.1" rx="3.65" ry="3.5"/><ellipse cx="930.35" cy="111.1" rx="3.65" ry="3.5"/><ellipse cx="930.35" cy="143.1" rx="3.65" ry="3.5"/><ellipse cx="938.42" cy="111.1" rx="3.65" ry="3.5"/><ellipse cx="938.42" cy="143.1" rx="3.65" ry="3.5"/><ellipse cx="946.49" cy="111.1" rx="3.65" ry="3.5"/><ellipse cx="946.49" cy="143.1" rx="3.65" ry="3.5"/><ellipse cx="954.56" cy="111.1" rx="3.65" ry="3.5"/><ellipse cx="954.56" cy="143.1" rx="3.65" ry="3.5"/><ellipse cx="962.63" cy="111.1" rx="3.65" ry="3.5"/><ellipse cx="962.63" cy="143.1" rx="3.65" ry="3.5"/><ellipse cx="970.7" cy="111.1" rx="3.65" ry="3.5"/><ellipse cx="970.7" cy="143.1" rx="3.65" ry="3.5"/><ellipse cx="978.77" cy="111.1" rx="3.65" ry="3.5"/><ellipse cx="978.77" cy="143.1" rx="3.65" ry="3.5"/><ellipse cx="986.84" cy="111.1" rx="3.65" ry="3.5"/><ellipse cx="986.84" cy="143.1" rx="3.65" ry="3.5"/><ellipse cx="994.91" cy="111.1" rx="3.65" ry="3.5"/><ellipse cx="994.91" cy="143.1" rx="3.65" ry="3.5"/><ellipse cx="1002.98" cy="111.1" rx="3.65" ry="3.5"/><ellipse cx="1002.98" cy="143.1" rx="3.65" ry="3.5"/><ellipse cx="1011.05" cy="111.1" rx="3.65" ry="3.5"/><ellipse cx="1011.05" cy="143.1" rx="3.65" ry="3.5"/><ellipse cx="1019.12" cy="111.1" rx="3.65" ry="3.5"/><ellipse cx="1019.12" cy="143.1" rx="3.65" ry="3.5"/><ellipse cx="1027.19" cy="111.1" rx="3.65" ry="3.5"/><ellipse cx="1027.19" cy="143.1" rx="3.65" ry="3.5"/><ellipse cx="1035.26" cy="111.1" rx="3.65" ry="3.5"/><ellipse cx="1035.26" cy="143.1" rx="3.65" ry="3.5"/><ellipse cx="1043.33" cy="111.1" rx="3.65" ry="3.5"/><ellipse cx="1043.33" cy="143.1" rx="3.65" ry="3.5"/><ellipse cx="1051.4" cy="111.1" rx="3.65" ry="3.5"/><ellipse cx="1051.4" cy="143.1" rx="3.65" ry="3.5"/><ellipse cx="1059.47" cy="111.1" rx="3.65" ry="3.5"/><ellipse cx="1059.47" cy="143.1" rx="3.65" ry="3.5"/><ellipse cx="1067.54" cy="111.1" rx="3.65" ry="3.5"/><ellipse cx="1067.54" cy="143.1" rx="3.65" ry="3.5"/><ellipse cx="1075.61" cy="111.1" rx="3.65" ry="3.5"/><ellipse cx="1075.61" cy="143.1" rx="3.65" ry="3.5"/></g>
<line x1="80.75" y1="112" x2="80.75" y2="152" stroke="#2f5e55" stroke-width="2.8" stroke-linecap="round"/>
<rect x="75" y="96" width="11.5" height="17.5" rx="2.2" fill="#4e9e8c" stroke="#3a7a6c" stroke-width="1"/>
<line x1="94.5" y1="112" x2="94.5" y2="152" stroke="#2a6a35" stroke-width="2.8" stroke-linecap="round"/>
<rect x="89" y="96" width="11" height="17.5" rx="2.2" fill="#5bc44c" stroke="#3c9a35" stroke-width="1"/>
<line x1="139.75" y1="112" x2="139.75" y2="152" stroke="#d0964a" stroke-width="2.8" stroke-linecap="round"/>
<rect x="134" y="96" width="11.5" height="17.5" rx="2.2" fill="#f0b83f" stroke="#d9a030" stroke-width="1"/>
<line x1="153.5" y1="112" x2="153.5" y2="152" stroke="#2f5e55" stroke-width="2.8" stroke-linecap="round"/>
<rect x="148" y="96" width="11" height="17.5" rx="2.2" fill="#4e9e8c" stroke="#3a7a6c" stroke-width="1"/>
<line x1="110" y1="99" x2="110" y2="146" stroke="#1f3545" stroke-width="2.8"/>
<line x1="125.5" y1="99" x2="125.5" y2="146" stroke="#1f3545" stroke-width="2.8"/>
<rect x="111.5" y="106" width="12.5" height="3.5" fill="none" stroke="#6a7a80" stroke-width="0.9"/>
<line x1="113.4" y1="109" x2="113.4" y2="158" stroke="#2f6a60" stroke-width="2.5"/>
<line x1="120.4" y1="109" x2="120.4" y2="158" stroke="#2f6a60" stroke-width="2.5"/>
<rect x="110.3" y="157" width="5.7" height="44.7" rx="2.6" fill="#4aa595" stroke="#2f7a6e" stroke-width="0.9"/>
<rect x="118" y="157" width="5.5" height="44.7" rx="2.6" fill="#4aa595" stroke="#2f7a6e" stroke-width="0.9"/>
<rect x="103.5" y="75" width="13" height="25" rx="1.5" fill="#3f7aaa" stroke="#2c5d86" stroke-width="1"/>
<path d="M103.5,48.5 L108.5,48.5 L110.0,46.6 L111.5,48.5 L116.5,48.5 L116.5,75 L103.5,75 Z" fill="#3f7aaa" stroke="#2c5d86" stroke-width="1" stroke-linejoin="round"/>
<rect x="119" y="75" width="13" height="25" rx="1.5" fill="#3f7aaa" stroke="#2c5d86" stroke-width="1"/>
<path d="M119,48.5 L124,48.5 L125.5,46.6 L127,48.5 L132,48.5 L132,75 L119,75 Z" fill="#3f7aaa" stroke="#2c5d86" stroke-width="1" stroke-linejoin="round"/>
<text x="25.7" y="90.7" font-size="24.27" fill="#1a1a1a" text-anchor="start" textLength="45.3" lengthAdjust="spacingAndGlyphs">TCR</text>
<line x1="241.8" y1="118" x2="241.8" y2="148" stroke="#1f3040" stroke-width="2.6"/>
<line x1="253" y1="118" x2="253" y2="148" stroke="#1f3040" stroke-width="2.6"/>
<path d="M215.01,60.73 L230.21,83.04" fill="none" stroke="#2f6c96" stroke-width="8" stroke-linejoin="round" stroke-linecap="butt"/>
<path d="M215.01,60.73 L230.21,83.04" fill="none" stroke="#4a8cb7" stroke-width="6.2" stroke-linejoin="round" stroke-linecap="butt"/>
<path d="M241.8,121 L241.8,83 L223.39,55.99" fill="none" stroke="#2f6c96" stroke-width="8.4" stroke-linejoin="round" stroke-linecap="butt"/>
<path d="M241.8,121 L241.8,83 L223.39,55.99" fill="none" stroke="#4a8cb7" stroke-width="6.6" stroke-linejoin="round" stroke-linecap="butt"/>
<path d="M216.11,59.26 L216.08,62.3 L213.24,61.22 Z" fill="#eaf1f9"/>
<path d="M224.58,54.45 L224.46,57.56 L221.53,56.53 Z" fill="#eaf1f9"/>
<path d="M279.79,60.73 L264.59,83.04" fill="none" stroke="#2f6c96" stroke-width="8" stroke-linejoin="round" stroke-linecap="butt"/>
<path d="M279.79,60.73 L264.59,83.04" fill="none" stroke="#4a8cb7" stroke-width="6.2" stroke-linejoin="round" stroke-linecap="butt"/>
<path d="M253,121 L253,83 L271.41,55.99" fill="none" stroke="#2f6c96" stroke-width="8.4" stroke-linejoin="round" stroke-linecap="butt"/>
<path d="M253,121 L253,83 L271.41,55.99" fill="none" stroke="#4a8cb7" stroke-width="6.6" stroke-linejoin="round" stroke-linecap="butt"/>
<path d="M281.56,61.22 L278.72,62.3 L278.69,59.26 Z" fill="#eaf1f9"/>
<path d="M273.27,56.53 L270.34,57.56 L270.22,54.45 Z" fill="#eaf1f9"/>
<line x1="312.8" y1="118" x2="312.8" y2="148" stroke="#1f3040" stroke-width="2.6"/>
<line x1="324" y1="118" x2="324" y2="148" stroke="#1f3040" stroke-width="2.6"/>
<path d="M286.01,60.73 L301.21,83.04" fill="none" stroke="#2f6c96" stroke-width="8" stroke-linejoin="round" stroke-linecap="butt"/>
<path d="M286.01,60.73 L301.21,83.04" fill="none" stroke="#4a8cb7" stroke-width="6.2" stroke-linejoin="round" stroke-linecap="butt"/>
<path d="M312.8,121 L312.8,83 L294.39,55.99" fill="none" stroke="#2f6c96" stroke-width="8.4" stroke-linejoin="round" stroke-linecap="butt"/>
<path d="M312.8,121 L312.8,83 L294.39,55.99" fill="none" stroke="#4a8cb7" stroke-width="6.6" stroke-linejoin="round" stroke-linecap="butt"/>
<path d="M287.11,59.26 L287.08,62.3 L284.24,61.22 Z" fill="#eaf1f9"/>
<path d="M295.58,54.45 L295.46,57.56 L292.53,56.53 Z" fill="#eaf1f9"/>
<path d="M350.79,60.73 L335.59,83.04" fill="none" stroke="#2f6c96" stroke-width="8" stroke-linejoin="round" stroke-linecap="butt"/>
<path d="M350.79,60.73 L335.59,83.04" fill="none" stroke="#4a8cb7" stroke-width="6.2" stroke-linejoin="round" stroke-linecap="butt"/>
<path d="M324,121 L324,83 L342.41,55.99" fill="none" stroke="#2f6c96" stroke-width="8.4" stroke-linejoin="round" stroke-linecap="butt"/>
<path d="M324,121 L324,83 L342.41,55.99" fill="none" stroke="#4a8cb7" stroke-width="6.6" stroke-linejoin="round" stroke-linecap="butt"/>
<path d="M352.56,61.22 L349.72,62.3 L349.69,59.26 Z" fill="#eaf1f9"/>
<path d="M344.27,56.53 L341.34,57.56 L341.22,54.45 Z" fill="#eaf1f9"/>
<line x1="213.9" y1="118" x2="213.9" y2="148" stroke="#1f3040" stroke-width="2.6"/>
<rect x="208.2" y="101.3" width="11.4" height="18.7" rx="2" fill="#22576a" stroke="#163c4a" stroke-width="1"/>
<line x1="228" y1="118" x2="228" y2="148" stroke="#1f3040" stroke-width="2.6"/>
<rect x="222.3" y="101.3" width="11.4" height="18.7" rx="2" fill="#4a80c8" stroke="#2f5e9c" stroke-width="1"/>
<line x1="338.2" y1="118" x2="338.2" y2="148" stroke="#1f3040" stroke-width="2.6"/>
<rect x="332.5" y="101.3" width="11.4" height="18.7" rx="2" fill="#22576a" stroke="#163c4a" stroke-width="1"/>
<line x1="352.3" y1="118" x2="352.3" y2="148" stroke="#1f3040" stroke-width="2.6"/>
<rect x="346.6" y="101.3" width="11.4" height="18.7" rx="2" fill="#4a80c8" stroke="#2f5e9c" stroke-width="1"/>
<path d="M283.2,41.5 Q284.5,41.5 297,49.5 Q298.5,51 297,52.2 Q284.5,60.5 283.2,60.5 Q282,60.5 269.5,52.2 Q268,51 269.5,49.5 Q282,41.5 283.2,41.5 Z" fill="#b5379f" stroke="#8a2a7a" stroke-width="0.8"/>
<text x="260.9" y="35" font-size="23.26" fill="#1a1a1a" text-anchor="start" textLength="47.61" lengthAdjust="spacingAndGlyphs">BCR</text>
<path d="M461.2,103 C459.2,118 459,135 459.6,157" fill="none" stroke="#4a3590" stroke-width="6.6"/>
<path d="M461.2,103 C459.2,118 459,135 459.6,157" fill="none" stroke="#7d66b8" stroke-width="4.2"/>
<path d="M469.8,103 C466.5,120 466,138 467.2,157" fill="none" stroke="#4a3590" stroke-width="6.6"/>
<path d="M469.8,103 C466.5,120 466,138 467.2,157" fill="none" stroke="#6e58ab" stroke-width="4.2"/>
<path d="M487.8,90.5 C488.5,93.5 491,96 495,96.7 C500,97.3 504,95.5 506,92 C509,87 510.6,82 510.4,76 C510.2,69 508,63 503,58.5 C498,54 491,51.5 484,51.6 C477,51.7 471,54.5 467,59.5 C464,64 463.5,75 464,85 L466,104 L474,104 C478,102 481.5,98 482,93 C482,91.5 482,91 482.3,90.5 C484,91.2 486,91.2 487.8,90.5 Z" fill="#6e58ab" stroke="#4a3590" stroke-width="1.4" stroke-linejoin="round"/>
<path d="M433.8,91.5 C434,94.5 431,97 427,96.8 C423,96.6 420,94.5 418.5,91.5 C416,87 414.8,81 415,75 C415.2,68 417,62 421,58 C425,54.5 430,52.5 436,51.8 C442,51 448,50.8 452.5,53.5 C457,56 461,59 465,62.5 C469,67 470.5,73 470.8,79 C471.2,86 471,93 468.5,99 C467,102 465,104.5 463,106 L458,106 C455,104 449,100 447,96 C446,94 446,92 446,90.5 C442,92 437,92 433.8,91.5 Z" fill="#7d66b8" stroke="#4a3590" stroke-width="1.4" stroke-linejoin="round"/>
<circle cx="442.1" cy="79.6" r="10.8" fill="#e29a1e" stroke="#a8601a" stroke-width="1"/>
<circle cx="439.1" cy="75.5" r="3" fill="#f2b54a" opacity="0.6"/>
<circle cx="485.5" cy="79.6" r="10.8" fill="#e29a1e" stroke="#a8601a" stroke-width="1"/>
<circle cx="482.5" cy="75.5" r="3" fill="#f2b54a" opacity="0.6"/>
<text x="526.7" y="92.3" font-size="24.13" fill="#1a1a1a" text-anchor="start" textLength="44" lengthAdjust="spacingAndGlyphs">TLR</text>
<line x1="676.8" y1="100" x2="676.8" y2="153" stroke="#1f3a48" stroke-width="2.6"/>
<line x1="687.2" y1="100" x2="687.2" y2="153" stroke="#141c30" stroke-width="2.6"/>
<path d="M676.8,46.1 H669.9 A6.9,6.9 0 0 0 669.9,59.9 H676.8 L676.8,68.5 H669.9 A6.9,6.9 0 0 0 669.9,82.3 H676.8 L676.8,90.7 H669.9 A6.9,6.9 0 0 0 669.9,104.5 H676.8 " fill="none" stroke="#4489b3" stroke-width="4.7" stroke-linecap="round" stroke-linejoin="round"/>
<path d="M687.5,46.1 H694.4 A6.9,6.9 0 0 1 694.4,59.9 H687.5 L687.5,68.5 H694.4 A6.9,6.9 0 0 1 694.4,82.3 H687.5 L687.5,90.7 H694.4 A6.9,6.9 0 0 1 694.4,104.5 H687.5 " fill="none" stroke="#2e4a78" stroke-width="4.7" stroke-linecap="round" stroke-linejoin="round"/>
<text x="714.8" y="93.5" font-size="23.55" fill="#1a1a1a" text-anchor="start" textLength="56.21" lengthAdjust="spacingAndGlyphs">IL-1R</text>
<line x1="906.5" y1="20.5" x2="906.5" y2="40" stroke="#ae7e3c" stroke-width="2.3" stroke-linecap="round"/>
<line x1="906.5" y1="124" x2="906.5" y2="150" stroke="#1f4a2e" stroke-width="2.4"/>
<line x1="913.7" y1="17.5" x2="913.7" y2="40" stroke="#ae7e3c" stroke-width="2.3" stroke-linecap="round"/>
<line x1="913.7" y1="124" x2="913.7" y2="150" stroke="#1f4a2e" stroke-width="2.4"/>
<line x1="920.7" y1="20.5" x2="920.7" y2="40" stroke="#ae7e3c" stroke-width="2.3" stroke-linecap="round"/>
<line x1="920.7" y1="124" x2="920.7" y2="150" stroke="#1f4a2e" stroke-width="2.4"/>
<rect x="900.6" y="38.4" width="11.6" height="19.5" rx="5" fill="#efb43f" stroke="#c88f26" stroke-width="0.9"/>
<rect x="915" y="38.4" width="11.6" height="19.5" rx="5" fill="#efb43f" stroke="#c88f26" stroke-width="0.9"/>
<rect x="907.1" y="35.6" width="13" height="21" rx="5.5" fill="#efb43f" stroke="#c88f26" stroke-width="0.9"/>
<ellipse cx="906.6" cy="64.25" rx="6.1" ry="6.25" fill="#4dac48" stroke="#21602a" stroke-width="1.2"/>
<ellipse cx="921" cy="64.25" rx="6.1" ry="6.25" fill="#4dac48" stroke="#21602a" stroke-width="1.2"/>
<ellipse cx="906.6" cy="79.5" rx="6.1" ry="9" fill="#4dac48" stroke="#21602a" stroke-width="1.2"/>
<ellipse cx="921" cy="79.5" rx="6.1" ry="9" fill="#4dac48" stroke="#21602a" stroke-width="1.2"/>
<ellipse cx="906.6" cy="97.4" rx="6.1" ry="8.9" fill="#4dac48" stroke="#21602a" stroke-width="1.2"/>
<ellipse cx="921" cy="97.4" rx="6.1" ry="8.9" fill="#4dac48" stroke="#21602a" stroke-width="1.2"/>
<ellipse cx="906.6" cy="115" rx="6.1" ry="9" fill="#4dac48" stroke="#21602a" stroke-width="1.2"/>
<ellipse cx="921" cy="115" rx="6.1" ry="9" fill="#4dac48" stroke="#21602a" stroke-width="1.2"/>
<ellipse cx="913.9" cy="62.5" rx="6.2" ry="6.5" fill="#4dac48" stroke="#21602a" stroke-width="1.2"/>
<ellipse cx="913.9" cy="77.4" rx="6.2" ry="8.9" fill="#4dac48" stroke="#21602a" stroke-width="1.2"/>
<ellipse cx="913.9" cy="95.4" rx="6.2" ry="8.9" fill="#4dac48" stroke="#21602a" stroke-width="1.2"/>
<ellipse cx="913.9" cy="113.5" rx="6.2" ry="9" fill="#4dac48" stroke="#21602a" stroke-width="1.2"/>
<rect x="903" y="148.3" width="6" height="18" rx="3" fill="#4dac48" stroke="#21602a" stroke-width="1"/>
<rect x="918.3" y="148.3" width="6" height="18" rx="3" fill="#4dac48" stroke="#21602a" stroke-width="1"/>
<rect x="910.4" y="148.3" width="6.4" height="18" rx="3" fill="#4dac48" stroke="#21602a" stroke-width="1"/>
<text x="942.7" y="82.7" font-size="20.93" fill="#1a1a1a" text-anchor="start" textLength="114" lengthAdjust="spacingAndGlyphs">LTβR/RANK/</text>
<text x="938.3" y="104" font-size="21.37" fill="#1a1a1a" text-anchor="start" textLength="123.41" lengthAdjust="spacingAndGlyphs">CD40/BAFFR</text>
<rect x="443.3" y="524.2" width="360" height="117.3" fill="#eff3f8" stroke="#d42b27" stroke-width="5" stroke-dasharray="7.8,7.9"/>
<path d="M155,186 C153,222 180.73,242.64 199.99,253.27" fill="none" stroke="url(#ag1)" stroke-width="3.5"/>
<path d="M214,261 L193.89,260.18 L202.59,244.42 Z" fill="#8991b8" stroke="#8991b8" stroke-width="0.8" stroke-linejoin="round"/>
<path d="M278.5,152.4 C291,170 298.89,213.11 287.67,227.19" fill="none" stroke="url(#ag2)" stroke-width="3.5"/>
<path d="M277.7,239.7 L281.88,220.01 L295.96,231.23 Z" fill="#8991b8" stroke="#8991b8" stroke-width="0.8" stroke-linejoin="round"/>
<path d="M458,218 C459,240 481.89,257.29 496.56,260.44" fill="none" stroke="url(#ag3)" stroke-width="3.5"/>
<path d="M512.2,263.8 L492.71,268.82 L496.49,251.22 Z" fill="#8991b8" stroke="#8991b8" stroke-width="0.8" stroke-linejoin="round"/>
<path d="M682,222.9 C678,240 652.41,257.61 638.18,262.35" fill="none" stroke="url(#ag4)" stroke-width="3.5"/>
<path d="M623,267.4 L637.23,253.17 L642.92,270.25 Z" fill="#8991b8" stroke="#8991b8" stroke-width="0.8" stroke-linejoin="round"/>
<path d="M582.5,317 C592,345 569.7,383.65 558.01,395.99" fill="none" stroke="url(#ag5)" stroke-width="3.5"/>
<path d="M547,407.6 L552.85,388.34 L565.91,400.73 Z" fill="#8991b8" stroke="#8991b8" stroke-width="0.8" stroke-linejoin="round"/>
<path d="M327.9,343.3 C337,392 398.61,433.06 434.6,433.78" fill="none" stroke="url(#ag6)" stroke-width="3.5"/>
<path d="M450.6,434.1 L432.42,442.74 L432.78,424.74 Z" fill="#8991b8" stroke="#8991b8" stroke-width="0.8" stroke-linejoin="round"/>
<path d="M472.2,471.9 C430,518 330.68,500.69 295.79,477.31" fill="none" stroke="url(#ag7)" stroke-width="3.5"/>
<path d="M282.5,468.4 L302.46,470.95 L292.44,485.9 Z" fill="#8991b8" stroke="#8991b8" stroke-width="0.8" stroke-linejoin="round"/>
<path d="M89.8,441.7 C79,458 84.02,483.61 91.51,490.23" fill="none" stroke="url(#ag8)" stroke-width="3.5"/>
<path d="M102,499.5 L84.38,495.27 L95.64,482.54 Z" fill="#8991b8" stroke="#8991b8" stroke-width="0.8" stroke-linejoin="round"/>
<path d="M225.5,537 C227,600 271.56,603.24 309.83,581.51" fill="none" stroke="url(#ag9)" stroke-width="3.5"/>
<path d="M322,574.6 L312.53,590.33 L303.64,574.67 Z" fill="#8991b8" stroke="#8991b8" stroke-width="0.8" stroke-linejoin="round"/>
<line x1="151.3" y1="585.2" x2="151.3" y2="623.5" stroke="#8991b8" stroke-width="2.5"/>
<path d="M151.3,633 L145.6,622.5 L157,622.5 Z" fill="#8991b8" stroke="#8991b8" stroke-width="0.8" stroke-linejoin="round"/>
<rect x="388.7" y="150.2" width="73.3" height="30.4" rx="15.2" fill="#8a6fbd"/>
<text x="403.5" y="171.7" font-size="18.31" fill="#f1eef9" text-anchor="start" textLength="38.5" lengthAdjust="spacingAndGlyphs">RIP1</text>
<rect x="456.1" y="149.4" width="83.7" height="30.4" rx="15.2" fill="#6e58a8"/>
<text x="468" y="171.7" font-size="18.31" fill="#f1eef9" text-anchor="start" textLength="61.41" lengthAdjust="spacingAndGlyphs">TRADD</text>
<rect x="416.9" y="174.6" width="98.5" height="34.1" rx="17.05" fill="#d68b1f" stroke="#f3d08a" stroke-width="1"/>
<text x="429.4" y="198.3" font-size="19.33" fill="#fbf0d8" text-anchor="start" textLength="74.1" lengthAdjust="spacingAndGlyphs">TRAF2/5</text>
<rect x="613.4" y="151.1" width="71.6" height="31.3" rx="15.65" fill="#4a8ab8"/>
<text x="618.8" y="173.3" font-size="18.9" fill="#eef6fb" text-anchor="start" textLength="57.99" lengthAdjust="spacingAndGlyphs">MyD88</text>
<rect x="680.6" y="151.1" width="84.1" height="31.3" rx="15.65" fill="#2d4a70"/>
<text x="688.3" y="173.3" font-size="18.9" fill="#eef2f8" text-anchor="start" textLength="68.7" lengthAdjust="spacingAndGlyphs">IRAK1/4</text>
<rect x="649.3" y="176.3" width="70.3" height="32.9" rx="16.45" fill="#b5389f"/>
<text x="657" y="199.2" font-size="18.75" fill="#fbe9f6" text-anchor="start" textLength="57.2" lengthAdjust="spacingAndGlyphs">TRAF6</text>
<rect x="841.1" y="170.3" width="77.7" height="31.4" rx="15.7" fill="#4ea84a" stroke="#d3eec8" stroke-width="0.8"/>
<text x="849.5" y="193.7" font-size="20.64" fill="#e4f7d6" text-anchor="start" textLength="61.9" lengthAdjust="spacingAndGlyphs">TRAF2</text>
<rect x="918" y="171.1" width="77.4" height="31.3" rx="15.65" fill="#4ea84a" stroke="#d3eec8" stroke-width="0.8"/>
<text x="926.7" y="193.7" font-size="20.64" fill="#e4f7d6" text-anchor="start" textLength="61.9" lengthAdjust="spacingAndGlyphs">TRAF3</text>
<rect x="876.3" y="199.4" width="76.3" height="40.5" rx="20.25" fill="#e9b23f" stroke="#f6dc9a" stroke-width="1"/>
<text x="893.8" y="227.6" font-size="19.91" fill="#fdf2d2" text-anchor="start" textLength="42" lengthAdjust="spacingAndGlyphs">cIAP</text>
<rect x="776.7" y="266.7" width="78.9" height="35.5" rx="17.75" fill="#dce9e5"/>
<text x="799.6" y="292.2" font-size="19.33" fill="#111" text-anchor="start" textLength="33.3" lengthAdjust="spacingAndGlyphs">NIK</text>
<rect x="523.8" y="242.8" width="75.6" height="33.8" rx="16.9" fill="#7352a8"/>
<text x="542.3" y="267" font-size="20.35" font-weight="bold" fill="#ffffff" text-anchor="start" textLength="38.5" lengthAdjust="spacingAndGlyphs">TAB</text>
<rect x="551.2" y="268.6" width="66.9" height="30.6" rx="15.3" fill="#3b5a80"/>
<text x="560.4" y="292.2" font-size="20.35" font-weight="bold" fill="#ffffff" text-anchor="start" textLength="48.1" lengthAdjust="spacingAndGlyphs">TAK1</text>
<rect x="233.6" y="257.1" width="87.3" height="36.4" rx="18.2" fill="#2f6f9a"/>
<text x="240.6" y="282.3" font-size="20.64" fill="#eef6fb" text-anchor="start" textLength="73.21" lengthAdjust="spacingAndGlyphs">CARMA</text>
<rect x="201.3" y="287.8" width="75.2" height="32.2" rx="16.1" fill="#3f9a7e"/>
<text x="212.3" y="310.6" font-size="20.64" fill="#eef8f3" text-anchor="start" textLength="53.51" lengthAdjust="spacingAndGlyphs">Bcl10</text>
<rect x="272.1" y="287.8" width="84.2" height="33" rx="16.5" fill="#e8b03a" stroke="#f6dc9a" stroke-width="1"/>
<text x="280.8" y="310.6" font-size="20.64" fill="#fdf6da" text-anchor="start" textLength="64.5" lengthAdjust="spacingAndGlyphs">MALT1</text>
<rect x="537.5" y="419.7" width="68.5" height="36.3" rx="18.15" fill="#4a7fc4"/>
<text x="548.9" y="445.2" font-size="23.4" fill="#eef4fb" text-anchor="start" textLength="44.3" lengthAdjust="spacingAndGlyphs">IKKβ</text>
<rect x="470.4" y="421" width="71.1" height="35.6" rx="17.8" fill="#2f6f95"/>
<text x="484.9" y="445.6" font-size="22.97" fill="#eef6fb" text-anchor="start" textLength="44.5" lengthAdjust="spacingAndGlyphs">IKKα</text>
<rect x="503.3" y="450.2" width="73.1" height="36" rx="18" fill="#d89020" stroke="#f3cf88" stroke-width="1"/>
<text x="518.7" y="474.7" font-size="22.38" fill="#fdf0d6" text-anchor="start" textLength="43" lengthAdjust="spacingAndGlyphs">IKKγ</text>
<path d="M779,362.5 C770,362.5 763.4,369 763.4,378 C763.4,386 765,390 767,392.8 C765,395.5 762.5,400 762.5,407.5 C762.5,416.5 769,423 778,423 H820 C829,423 835.1,416.5 835.1,407.5 C835.1,400 833.5,395.5 831.5,392.8 C833.5,390 836.1,386 836.1,378 C836.1,369 830,362.5 821,362.5 Z" fill="#52a84c" stroke="#cdeec2" stroke-width="1"/>
<text x="778" y="385.5" font-size="23.69" fill="#e6fadc" text-anchor="start" textLength="44.5" lengthAdjust="spacingAndGlyphs">IKKα</text>
<text x="777" y="413.6" font-size="23.69" fill="#e6fadc" text-anchor="start" textLength="44.7" lengthAdjust="spacingAndGlyphs">IKKα</text>
<rect x="827.5" y="506.6" width="56.3" height="29.1" rx="14.55" fill="#d5efe9"/>
<text x="835" y="524.8" font-size="18.31" fill="#111" text-anchor="start" textLength="42.21" lengthAdjust="spacingAndGlyphs">P100</text>
<rect x="810.6" y="475.6" width="65.7" height="30" rx="15" fill="#a83da3" stroke="#f3c8ec" stroke-width="0.8"/>
<text x="823.8" y="496.3" font-size="17.73" fill="#f8e4f4" text-anchor="start" textLength="38.39" lengthAdjust="spacingAndGlyphs">RelB</text>
<rect x="839.7" y="566.6" width="56.3" height="28.2" rx="14.1" fill="#e8b03a" stroke="#f8dc98" stroke-width="0.8"/>
<text x="851" y="585.4" font-size="19.04" fill="#fdf3cc" text-anchor="start" textLength="33.71" lengthAdjust="spacingAndGlyphs">P52</text>
<rect x="866" y="588.2" width="59" height="26.3" rx="13.15" fill="#a83da3" stroke="#f3c8ec" stroke-width="0.8"/>
<text x="876.3" y="606" font-size="17.73" fill="#f8e4f4" text-anchor="start" textLength="38.49" lengthAdjust="spacingAndGlyphs">RelB</text>
<rect x="136.1" y="441" width="102.9" height="37.1" rx="18.55" fill="#3f9a7e"/>
<text x="174" y="469.1" font-size="22.24" fill="#e6f5ef" text-anchor="start" textLength="29.8" lengthAdjust="spacingAndGlyphs">IκB</text>
<rect x="164.1" y="410.4" width="124.6" height="37.9" rx="18.95" fill="#5ac04a"/>
<text x="177.6" y="437.5" font-size="20.93" fill="#eefbe6" text-anchor="start" textLength="93.9" lengthAdjust="spacingAndGlyphs">p65/c-Rel</text>
<rect x="108.1" y="410.4" width="61.4" height="37" rx="18.5" fill="#e8a83a" stroke="#f6d48a" stroke-width="1"/>
<text x="121.7" y="436.6" font-size="19.62" fill="#fdf3d6" text-anchor="start" textLength="34.31" lengthAdjust="spacingAndGlyphs">P50</text>
<circle cx="240" cy="469.2" r="15.2" fill="#e0c52e" stroke="#f3e27a" stroke-width="1.2"/>
<text x="235.4" y="473.6" font-size="15.7" font-weight="bold" fill="#3a2a10" text-anchor="start" textLength="9.1" lengthAdjust="spacingAndGlyphs">P</text>
<circle cx="69.4" cy="637.9" r="15" fill="#efd3ea"/>
<circle cx="79.2" cy="611.2" r="15" fill="#efd3ea"/>
<circle cx="88.1" cy="587.3" r="15" fill="#efd3ea"/>
<circle cx="97.4" cy="561.8" r="15" fill="#efd3ea"/>
<rect x="103.5" y="541.2" width="99.7" height="36.8" rx="18.4" fill="#3f9a7e"/>
<circle cx="97.4" cy="561.8" r="15" fill="#efd3ea"/>
<text x="60.5" y="642.8" font-size="15.41" font-weight="bold" fill="#151515" text-anchor="start" textLength="18.7" lengthAdjust="spacingAndGlyphs">Ub</text>
<text x="69.4" y="616" font-size="14.1" font-weight="bold" fill="#151515" text-anchor="start" textLength="19.5" lengthAdjust="spacingAndGlyphs">Ub</text>
<text x="79.2" y="590.9" font-size="14.1" font-weight="bold" fill="#151515" text-anchor="start" textLength="18.6" lengthAdjust="spacingAndGlyphs">Ub</text>
<text x="88.9" y="566.6" font-size="15.26" font-weight="bold" fill="#151515" text-anchor="start" textLength="18.6" lengthAdjust="spacingAndGlyphs">Ub</text>
<text x="137.5" y="567.4" font-size="22.38" fill="#e6f5ef" text-anchor="start" textLength="29.2" lengthAdjust="spacingAndGlyphs">IκB</text>
<circle cx="205.6" cy="574.7" r="15.2" fill="#e0c52e" stroke="#f3e27a" stroke-width="1.2"/>
<text x="201.5" y="578.8" font-size="14.24" font-weight="bold" fill="#3a2a10" text-anchor="start" textLength="9" lengthAdjust="spacingAndGlyphs">P</text>
<rect x="329.8" y="523.3" width="124.9" height="37.8" rx="18.9" fill="#5ac04a"/>
<text x="343.9" y="550" font-size="20.93" fill="#eefbe6" text-anchor="start" textLength="92.9" lengthAdjust="spacingAndGlyphs">p65/c-Rel</text>
<rect x="273.5" y="524.2" width="62.5" height="36" rx="18" fill="#e8a83a" stroke="#f6d48a" stroke-width="1"/>
<text x="288.5" y="549.7" font-size="20.49" fill="#fdf3d6" text-anchor="start" textLength="33.41" lengthAdjust="spacingAndGlyphs">P50</text>
<text x="117.1" y="357.5" font-size="25.5" font-weight="bold" fill="#b13a3c" text-anchor="start" textLength="119.3" lengthAdjust="spacingAndGlyphs">Canonical</text>
<text x="120.4" y="382.5" font-size="25.2" font-weight="bold" fill="#b13a3c" text-anchor="start" textLength="114.1" lengthAdjust="spacingAndGlyphs">pathways</text>
<text x="854.3" y="356.9" font-size="25.5" font-weight="bold" fill="#68ae4b" text-anchor="start" textLength="178.69" lengthAdjust="spacingAndGlyphs">Non-Canonical</text>
<text x="890.4" y="381.9" font-size="25.2" font-weight="bold" fill="#68ae4b" text-anchor="start" textLength="113.9" lengthAdjust="spacingAndGlyphs">pathways</text>
<text x="617.8" y="383.3" font-size="23.3" font-weight="bold" fill="#cf3436" text-anchor="start" textLength="105.9" lengthAdjust="spacingAndGlyphs">Signaling</text>
<text x="617.8" y="410.3" font-size="23.3" font-weight="bold" fill="#cf3436" text-anchor="start" textLength="113.2" lengthAdjust="spacingAndGlyphs">Activation</text>
<text x="118.3" y="512.4" font-size="23.5" font-weight="bold" fill="#111" text-anchor="start" textLength="162.6" lengthAdjust="spacingAndGlyphs">NF-κB complex</text>
<path d="M668.8,427.5 H678.8 V484.4 H688.8 L673.9,515 L658.2,484.4 H668.8 Z" fill="url(#redg)"/>
<path d="M362,571 C395,590 425,610 427,650" fill="none" stroke="#8598c2" stroke-width="3.6" stroke-dasharray="9,7"/>
<path d="M422.8,667.5 L416,652 L431,654 Z" fill="#8598c2" stroke="#8598c2" stroke-linejoin="round"/>
<text x="560" y="553.1" font-size="22.6" font-weight="bold" fill="#111" text-anchor="start" textLength="127.3" lengthAdjust="spacingAndGlyphs">Senescence</text>
<text x="494" y="578.5" font-size="22.6" font-weight="bold" fill="#111" text-anchor="start" textLength="258.6" lengthAdjust="spacingAndGlyphs">associated inflammation</text>
<text x="555.7" y="603.5" font-size="22.6" font-weight="bold" fill="#111" text-anchor="start" textLength="136.39" lengthAdjust="spacingAndGlyphs">DNA damage</text>
<text x="484" y="628.2" font-size="22.6" font-weight="bold" fill="#111" text-anchor="start" textLength="278.51" lengthAdjust="spacingAndGlyphs">Proinflammatory response</text>
<path d="M867,219.6 C852,221 836,229 828.5,240 C825.5,244.5 823.5,248 822.6,249.5" fill="none" stroke="#1d1d1f" stroke-width="3.1" stroke-dasharray="5.4,5"/>
<path d="M817.1,263.3 L815.3,250.1 L826.9,254.3 Z" fill="#1d1d1f" stroke="#1d1d1f" stroke-width="0.8" stroke-linejoin="round"/>
<path d="M784.6,304.2 C758,310 757.31,337.7 770,350.46" fill="none" stroke="url(#ag10)" stroke-width="2.7"/>
<path d="M776.7,357.2 L764.34,353.28 L772.85,344.81 Z" fill="#1d1d1f" stroke="#1d1d1f" stroke-width="0.8" stroke-linejoin="round"/>
<path d="M803.8,425 C789,438 793.94,456.46 801.69,465.63" fill="none" stroke="url(#ag11)" stroke-width="2.7"/>
<path d="M807.5,472.5 L795.82,467.97 L804.98,460.23 Z" fill="#1d1d1f" stroke="#1d1d1f" stroke-width="0.8" stroke-linejoin="round"/>
<path d="M880.5,522.5 C893,529 897.91,548.94 892.47,557.33" fill="none" stroke="url(#ag12)" stroke-width="2.7"/>
<path d="M887.3,565.3 L888.52,552.39 L898.59,558.92 Z" fill="#1d1d1f" stroke="#1d1d1f" stroke-width="0.8" stroke-linejoin="round"/>
<path d="M865.8,619 C866,634 861,648 850,659 C846,663 842,667 836,671" fill="none" stroke="#1d1d1f" stroke-width="4.6" stroke-dasharray="8.5,7.5"/>
<path d="M820.5,683.5 L830,667 L839,681.5 Z" fill="#1d1d1f" stroke="#1d1d1f" stroke-width="0.8" stroke-linejoin="round"/>
<g fill="#d5efe6" stroke="#3f6e5c" stroke-width="1.7" stroke-linejoin="round"><path d="M104,646.5 C110,646 113,648 112.5,651 C112,655 109.5,658 110.5,663 C111.5,667 117,670 117,674 C117,678 112,679.5 106,679 C96,678.5 90.5,672 90.5,662.5 C90.5,653 96,647 104,646.5 Z"/><path d="M122,652 C123,648 129,646.5 134,647 C139,647.5 142,651 141.6,655 C141.3,658.5 139,660 136.5,659.3 C133,658 129,656.5 125,656.3 C122.5,656 121.3,654.5 122,652 Z"/><path d="M125,663.5 C128,662 131,664.5 133,666.5 C136,669 141,669 143.5,671 C145,673.5 141,675.3 136,675.5 C131,675.7 125,675.5 123,674 C121,672 121.5,667 125,663.5 Z"/><path d="M147,650.5 C148.5,647 154,646.3 160,647 C167,648 172.5,651 173.8,656 C174.3,659.5 172.5,662 170,661 C166.5,659 161,657 155,657.3 C151,657.8 147.5,657 146.7,654 C146.5,652.5 146.6,651.5 147,650.5 Z"/><path d="M153,665 C156,663.3 159,665.5 161,667.5 C164,670 169,670.5 171.5,672.5 C173,675 170,677.8 165,678.3 C159,678.8 152,678.5 150,676.5 C148.2,674 149,668 153,665 Z"/><path d="M179,646.5 C190,644.5 204,650 206,661 C207.5,671 198,678.5 186,678.5 C180,678.5 176.5,677 178,674 C180.5,669 181,665 180.5,661 C180,656.5 177,652 177.5,649 C177.7,647.5 178.2,646.8 179,646.5 Z"/></g>
<text x="96.5" y="698.5" font-size="18.17" fill="#333" text-anchor="start" textLength="109.8" lengthAdjust="spacingAndGlyphs">Degraded IκB</text>
<polyline points="323,718.8 323.8,719.43 324.6,720.1 325.41,720.81 326.21,721.56 327.01,722.35 327.81,723.18 328.62,724.03 329.42,724.91 330.22,725.81 331.02,726.74 331.83,727.67 332.63,728.62 333.43,729.57 334.23,730.53 335.04,731.48 335.84,732.43 336.64,733.37 337.44,734.29 338.25,735.19 339.05,736.08 339.85,736.93 340.65,737.76 341.46,738.56 342.26,739.31 343.06,740.03 343.86,740.7 344.66,741.33 345.47,741.91 346.27,742.44 347.07,742.92 347.87,743.33 348.68,743.7 349.48,744 350.28,744.24 351.08,744.42 351.89,744.54 352.69,744.6 353.49,744.59 354.29,744.52 355.1,744.39 355.9,744.19 356.7,743.94 357.5,743.62 358.31,743.24 359.11,742.81 359.91,742.33 360.71,741.79 361.52,741.2 362.32,740.56 363.12,739.87 363.92,739.15 364.73,738.38 365.53,737.58 366.33,736.74 367.13,735.88 367.93,734.99 368.74,734.08 369.54,733.16 370.34,732.22 371.14,731.27 371.95,730.31 372.75,729.36 373.55,728.4 374.35,727.46 375.16,726.53 375.96,725.61 376.76,724.71 377.56,723.84 378.37,722.99 379.17,722.17 379.97,721.39 380.77,720.65 381.58,719.94 382.38,719.28 383.18,718.67 383.98,718.11 384.79,717.6 385.59,717.14 386.39,716.74 387.19,716.4 387.99,716.12 388.8,715.89 389.6,715.73 390.4,715.64 391.2,715.6 392.01,715.63 392.81,715.72 393.61,715.87 394.41,716.09 395.22,716.36 396.02,716.7 396.82,717.09 397.62,717.54 398.43,718.05 399.23,718.6 400.03,719.21 400.83,719.86 401.64,720.56 402.44,721.3 403.24,722.08 404.04,722.89 404.85,723.74 405.65,724.61 406.45,725.51 407.25,726.42 408.05,727.35 408.86,728.3 409.66,729.25 410.46,730.2 411.26,731.16 412.07,732.11 412.87,733.05 413.67,733.98 414.47,734.89 415.28,735.78 416.08,736.65 416.88,737.49 417.68,738.29 418.49,739.06 419.29,739.79 420.09,740.48 420.89,741.13 421.7,741.72 422.5,742.27 423.3,742.76 424.1,743.2 424.91,743.58 425.71,743.9 426.51,744.17 427.31,744.37 428.12,744.51 428.92,744.58 429.72,744.6 430.52,744.55 431.32,744.44 432.13,744.26 432.93,744.03 433.73,743.73 434.53,743.38 435.34,742.97 436.14,742.5 436.94,741.97 437.74,741.4 438.55,740.78 439.35,740.11 440.15,739.4 440.95,738.64 441.76,737.85 442.56,737.03 443.36,736.18 444.16,735.3 444.97,734.39 445.77,733.47 446.57,732.54 447.37,731.59 448.18,730.64 448.98,729.68 449.78,728.73 450.58,727.78 451.38,726.84 452.19,725.92 452.99,725.01 453.79,724.13 454.59,723.27 455.4,722.44 456.2,721.65 457,720.89 457.8,720.17 458.61,719.5 459.41,718.87 460.21,718.29 461.01,717.76 461.82,717.29 462.62,716.87 463.42,716.51 464.22,716.2 465.03,715.96 465.83,715.78 466.63,715.66 467.43,715.6 468.24,715.61 469.04,715.68 469.84,715.81 470.64,716.01 471.45,716.26 472.25,716.58 473.05,716.95 473.85,717.38 474.65,717.87 475.46,718.41 476.26,719 477.06,719.64 477.86,720.32 478.67,721.05 479.47,721.81 480.27,722.62 481.07,723.45 481.88,724.31 482.68,725.2 483.48,726.11 484.28,727.04 485.09,727.98 485.89,728.93 486.69,729.88 487.49,730.84 488.3,731.79 489.1,732.73 489.9,733.67 490.7,734.58 491.51,735.48 492.31,736.36 493.11,737.21 493.91,738.02 494.71,738.8 495.52,739.55 496.32,740.25 497.12,740.91 497.92,741.53 498.73,742.09 499.53,742.6 500.33,743.06 501.13,743.46 501.94,743.8 502.74,744.08 503.54,744.31 504.34,744.47 505.15,744.56 505.95,744.6 506.75,744.57 507.55,744.48 508.36,744.33 509.16,744.11 509.96,743.84 510.76,743.5 511.57,743.11 512.37,742.66 513.17,742.16 513.97,741.6 514.77,740.99 515.58,740.34 516.38,739.64 517.18,738.9 517.98,738.12 518.79,737.31 519.59,736.47 520.39,735.6 521.19,734.7 522,733.78 522.8,732.85 523.6,731.91 524.4,730.96 525.21,730 526.01,729.05 526.81,728.1 527.61,727.16 528.42,726.23 529.22,725.32 530.02,724.43 530.82,723.56 531.63,722.72 532.43,721.92 533.23,721.14 534.03,720.41 534.84,719.72 535.64,719.08 536.44,718.48 537.24,717.94 538.04,717.44 538.85,717 539.65,716.62 540.45,716.3 541.25,716.04 542.06,715.83 542.86,715.69 543.66,715.62 544.46,715.6 545.27,715.65 546.07,715.76 546.87,715.93 547.67,716.17 548.48,716.46 549.28,716.82 550.08,717.23 550.88,717.7 551.69,718.22 552.49,718.79 553.29,719.42 554.09,720.09 554.9,720.8 555.7,721.55 556.5,722.34" fill="none" stroke="#1f2b8c" stroke-width="7.6"/>
<polyline points="323,739.98 323.8,740.66 324.6,741.29 325.41,741.87 326.21,742.4 327.01,742.88 327.81,743.3 328.62,743.67 329.42,743.98 330.22,744.22 331.02,744.41 331.83,744.53 332.63,744.59 333.43,744.59 334.23,744.53 335.04,744.4 335.84,744.21 336.64,743.96 337.44,743.65 338.25,743.27 339.05,742.85 339.85,742.36 340.65,741.83 341.46,741.24 342.26,740.61 343.06,739.93 343.86,739.2 344.66,738.44 345.47,737.64 346.27,736.81 347.07,735.95 347.87,735.06 348.68,734.15 349.48,733.23 350.28,732.29 351.08,731.34 351.89,730.38 352.69,729.43 353.49,728.48 354.29,727.53 355.1,726.6 355.9,725.68 356.7,724.78 357.5,723.9 358.31,723.05 359.11,722.23 359.91,721.45 360.71,720.7 361.52,719.99 362.32,719.33 363.12,718.71 363.92,718.15 364.73,717.63 365.53,717.17 366.33,716.77 367.13,716.42 367.93,716.13 368.74,715.91 369.54,715.74 370.34,715.64 371.14,715.6 371.95,715.62 372.75,715.71 373.55,715.86 374.35,716.07 375.16,716.34 375.96,716.67 376.76,717.06 377.56,717.51 378.37,718.01 379.17,718.56 379.97,719.16 380.77,719.81 381.58,720.51 382.38,721.25 383.18,722.02 383.98,722.83 384.79,723.67 385.59,724.54 386.39,725.44 387.19,726.35 387.99,727.28 388.8,728.23 389.6,729.18 390.4,730.13 391.2,731.09 392.01,732.04 392.81,732.98 393.61,733.91 394.41,734.82 395.22,735.72 396.02,736.58 396.82,737.42 397.62,738.23 398.43,739 399.23,739.74 400.03,740.43 400.83,741.08 401.64,741.68 402.44,742.23 403.24,742.73 404.04,743.17 404.85,743.55 405.65,743.88 406.45,744.15 407.25,744.35 408.05,744.5 408.86,744.58 409.66,744.6 410.46,744.55 411.26,744.45 412.07,744.28 412.87,744.05 413.67,743.76 414.47,743.41 415.28,743 416.08,742.53 416.88,742.02 417.68,741.45 418.49,740.83 419.29,740.16 420.09,739.45 420.89,738.7 421.7,737.91 422.5,737.09 423.3,736.24 424.1,735.36 424.91,734.46 425.71,733.54 426.51,732.61 427.31,731.66 428.12,730.71 428.92,729.75 429.72,728.8 430.52,727.85 431.32,726.91 432.13,725.99 432.93,725.08 433.73,724.19 434.53,723.34 435.34,722.51 436.14,721.71 436.94,720.95 437.74,720.23 438.55,719.55 439.35,718.92 440.15,718.33 440.95,717.8 441.76,717.32 442.56,716.9 443.36,716.53 444.16,716.22 444.97,715.98 445.77,715.79 446.57,715.67 447.37,715.61 448.18,715.61 448.98,715.67 449.78,715.8 450.58,715.99 451.38,716.24 452.19,716.55 452.99,716.92 453.79,717.35 454.59,717.83 455.4,718.37 456.2,718.95 457,719.59 457.8,720.27 458.61,720.99 459.41,721.76 460.21,722.55 461.01,723.39 461.82,724.25 462.62,725.13 463.42,726.04 464.22,726.97 465.03,727.91 465.83,728.85 466.63,729.81 467.43,730.76 468.24,731.72 469.04,732.66 469.84,733.6 470.64,734.52 471.45,735.42 472.25,736.29 473.05,737.14 473.85,737.96 474.65,738.75 475.46,739.5 476.26,740.2 477.06,740.87 477.86,741.48 478.67,742.05 479.47,742.56 480.27,743.02 481.07,743.43 481.88,743.78 482.68,744.06 483.48,744.29 484.28,744.46 485.09,744.56 485.89,744.6 486.69,744.58 487.49,744.49 488.3,744.34 489.1,744.13 489.9,743.86 490.7,743.53 491.51,743.14 492.31,742.7 493.11,742.2 493.91,741.64 494.71,741.04 495.52,740.39 496.32,739.7 497.12,738.96 497.92,738.18 498.73,737.37 499.53,736.53 500.33,735.66 501.13,734.77 501.94,733.85 502.74,732.92 503.54,731.98 504.34,731.03 505.15,730.07 505.95,729.12 506.75,728.17 507.55,727.23 508.36,726.3 509.16,725.38 509.96,724.49 510.76,723.62 511.57,722.78 512.37,721.97 513.17,721.2 513.97,720.47 514.77,719.77 515.58,719.13 516.38,718.53 517.18,717.98 517.98,717.48 518.79,717.04 519.59,716.65 520.39,716.32 521.19,716.05 522,715.85 522.8,715.7 523.6,715.62 524.4,715.6 525.21,715.64 526.01,715.75 526.81,715.92 527.61,716.15 528.42,716.44 529.22,716.79 530.02,717.2 530.82,717.66 531.63,718.18 532.43,718.75 533.23,719.37 534.03,720.03 534.84,720.74 535.64,721.49 536.44,722.28 537.24,723.1 538.04,723.95 538.85,724.83 539.65,725.73 540.45,726.65 541.25,727.59 542.06,728.53 542.86,729.49 543.66,730.44 544.46,731.4 545.27,732.34 546.07,733.28 546.87,734.21 547.67,735.11 548.48,736 549.28,736.86 550.08,737.69 550.88,738.49 551.69,739.25 552.49,739.97 553.29,740.65 554.09,741.28 554.9,741.86 555.7,742.4 556.5,742.87" fill="none" stroke="#3553ae" stroke-width="7.6"/>
<polyline points="334.23,730.53 335.04,731.48 335.84,732.43 336.64,733.37 337.44,734.29 338.25,735.19 339.05,736.08 339.85,736.93 340.65,737.76 341.46,738.56 342.26,739.31 343.06,740.03 343.86,740.7 344.66,741.33 345.47,741.91 346.27,742.44 347.07,742.92 347.87,743.33 348.68,743.7 349.48,744 350.28,744.24 351.08,744.42 351.89,744.54" fill="none" stroke="#1f2b8c" stroke-width="7.6"/>
<polyline points="411.26,731.16 412.07,732.11 412.87,733.05 413.67,733.98 414.47,734.89 415.28,735.78 416.08,736.65 416.88,737.49 417.68,738.29 418.49,739.06 419.29,739.79 420.09,740.48 420.89,741.13 421.7,741.72 422.5,742.27 423.3,742.76 424.1,743.2 424.91,743.58 425.71,743.9 426.51,744.17 427.31,744.37 428.12,744.51" fill="none" stroke="#1f2b8c" stroke-width="7.6"/>
<polyline points="487.49,730.84 488.3,731.79 489.1,732.73 489.9,733.67 490.7,734.58 491.51,735.48 492.31,736.36 493.11,737.21 493.91,738.02 494.71,738.8 495.52,739.55 496.32,740.25 497.12,740.91 497.92,741.53 498.73,742.09 499.53,742.6 500.33,743.06 501.13,743.46 501.94,743.8 502.74,744.08 503.54,744.31 504.34,744.47" fill="none" stroke="#1f2b8c" stroke-width="7.6"/>
<polyline points="704,721.12 704.8,722.01 705.61,722.92 706.41,723.86 707.21,724.82 708.02,725.78 708.82,726.76 709.62,727.74 710.42,728.73 711.23,729.7 712.03,730.68 712.83,731.64 713.64,732.58 714.44,733.5 715.24,734.4 716.05,735.27 716.85,736.11 717.65,736.92 718.46,737.68 719.26,738.41 720.06,739.08 720.87,739.71 721.67,740.29 722.47,740.82 723.27,741.29 724.08,741.71 724.88,742.06 725.68,742.35 726.49,742.59 727.29,742.75 728.09,742.86 728.9,742.9 729.7,742.88 730.5,742.79 731.31,742.64 732.11,742.42 732.91,742.14 733.72,741.8 734.52,741.4 735.32,740.95 736.12,740.44 736.93,739.87 737.73,739.25 738.53,738.59 739.34,737.87 740.14,737.12 740.94,736.32 741.75,735.49 742.55,734.63 743.35,733.74 744.16,732.82 744.96,731.88 745.76,730.92 746.56,729.96 747.37,728.98 748.17,728 748.97,727.01 749.78,726.04 750.58,725.06 751.38,724.11 752.19,723.16 752.99,722.24 753.79,721.34 754.6,720.48 755.4,719.64 756.2,718.84 757.01,718.07 757.81,717.35 758.61,716.68 759.41,716.05 760.22,715.47 761.02,714.95 761.82,714.48 762.63,714.07 763.43,713.72 764.23,713.43 765.04,713.2 765.84,713.04 766.64,712.94 767.45,712.9 768.25,712.93 769.05,713.02 769.85,713.18 770.66,713.4 771.46,713.68 772.26,714.02 773.07,714.42 773.87,714.88 774.67,715.4 775.48,715.97 776.28,716.59 777.08,717.26 777.89,717.97 778.69,718.73 779.49,719.53 780.3,720.36 781.1,721.23 781.9,722.12 782.7,723.04 783.51,723.98 784.31,724.93 785.11,725.9 785.92,726.88 786.72,727.86 787.52,728.85 788.33,729.82 789.13,730.79 789.93,731.75 790.74,732.69 791.54,733.61 792.34,734.51 793.15,735.38 793.95,736.21 794.75,737.01 795.55,737.77 796.36,738.49 797.16,739.16 797.96,739.79 798.77,740.36 799.57,740.88 800.37,741.35 801.18,741.75 801.98,742.1 802.78,742.39 803.59,742.61 804.39,742.77 805.19,742.87 805.99,742.9 806.8,742.87 807.6,742.77 808.4,742.61 809.21,742.39 810.01,742.1 810.81,741.76 811.62,741.35 812.42,740.89 813.22,740.37 814.03,739.8 814.83,739.17 815.63,738.5 816.44,737.78 817.24,737.02 818.04,736.22 818.84,735.39 819.65,734.52 820.45,733.63 821.25,732.71 822.06,731.76 822.86,730.81 823.66,729.84 824.47,728.86 825.27,727.88 826.07,726.89 826.88,725.92 827.68,724.95 828.48,723.99 829.28,723.05 830.09,722.13 830.89,721.24 831.69,720.37 832.5,719.54 833.3,718.74 834.1,717.98 834.91,717.27 835.71,716.6 836.51,715.97 837.32,715.4 838.12,714.89 838.92,714.43 839.73,714.02 840.53,713.68 841.33,713.4 842.13,713.18 842.94,713.02 843.74,712.93 844.54,712.9 845.35,712.94 846.15,713.04 846.95,713.2 847.76,713.43 848.56,713.72 849.36,714.07 850.17,714.47 850.97,714.94 851.77,715.46 852.58,716.04 853.38,716.67 854.18,717.34 854.98,718.06 855.79,718.83 856.59,719.63 857.39,720.46 858.2,721.33 859,722.23" fill="none" stroke="#1b3a4b" stroke-width="7.6"/>
<polyline points="704,741.9 704.8,742.22 705.61,742.48 706.41,742.68 707.21,742.82 708.02,742.89 708.82,742.89 709.62,742.84 710.42,742.72 711.23,742.53 712.03,742.28 712.83,741.97 713.64,741.6 714.44,741.17 715.24,740.69 716.05,740.14 716.85,739.55 717.65,738.91 718.46,738.22 719.26,737.48 720.06,736.7 720.87,735.89 721.67,735.04 722.47,734.16 723.27,733.26 724.08,732.33 724.88,731.38 725.68,730.42 726.49,729.44 727.29,728.46 728.09,727.48 728.9,726.5 729.7,725.52 730.5,724.56 731.31,723.61 732.11,722.68 732.91,721.77 733.72,720.88 734.52,720.03 735.32,719.21 736.12,718.43 736.93,717.69 737.73,716.99 738.53,716.34 739.34,715.74 740.14,715.19 740.94,714.7 741.75,714.26 742.55,713.88 743.35,713.56 744.16,713.3 744.96,713.11 745.76,712.98 746.56,712.91 747.37,712.91 748.17,712.97 748.97,713.09 749.78,713.28 750.58,713.54 751.38,713.85 752.19,714.22 752.99,714.66 753.79,715.15 754.6,715.69 755.4,716.29 756.2,716.93 757.01,717.63 757.81,718.37 758.61,719.14 759.41,719.96 760.22,720.81 761.02,721.69 761.82,722.6 762.63,723.53 763.43,724.48 764.23,725.44 765.04,726.42 765.84,727.4 766.64,728.38 767.45,729.36 768.25,730.34 769.05,731.3 769.85,732.25 770.66,733.18 771.46,734.09 772.26,734.97 773.07,735.82 773.87,736.64 774.67,737.42 775.48,738.16 776.28,738.85 777.08,739.5 777.89,740.1 778.69,740.64 779.49,741.13 780.3,741.57 781.1,741.94 781.9,742.26 782.7,742.51 783.51,742.7 784.31,742.83 785.11,742.89 785.92,742.89 786.72,742.83 787.52,742.7 788.33,742.5 789.13,742.25 789.93,741.93 790.74,741.55 791.54,741.12 792.34,740.62 793.15,740.07 793.95,739.47 794.75,738.83 795.55,738.13 796.36,737.39 797.16,736.61 797.96,735.79 798.77,734.94 799.57,734.05 800.37,733.14 801.18,732.21 801.98,731.26 802.78,730.3 803.59,729.32 804.39,728.34 805.19,727.36 805.99,726.38 806.8,725.4 807.6,724.44 808.4,723.49 809.21,722.56 810.01,721.66 810.81,720.78 811.62,719.93 812.42,719.11 813.22,718.34 814.03,717.6 814.83,716.91 815.63,716.26 816.44,715.67 817.24,715.13 818.04,714.64 818.84,714.21 819.65,713.84 820.45,713.52 821.25,713.28 822.06,713.09 822.86,712.96 823.66,712.91 824.47,712.91 825.27,712.98 826.07,713.11 826.88,713.31 827.68,713.57 828.48,713.89 829.28,714.27 830.09,714.71 830.89,715.21 831.69,715.76 832.5,716.36 833.3,717.02 834.1,717.72 834.91,718.46 835.71,719.24 836.51,720.06 837.32,720.92 838.12,721.8 838.92,722.71 839.73,723.65 840.53,724.6 841.33,725.56 842.13,726.54 842.94,727.52 843.74,728.5 844.54,729.48 845.35,730.45 846.15,731.42 846.95,732.36 847.76,733.29 848.56,734.2 849.36,735.08 850.17,735.92 850.97,736.74 851.77,737.51 852.58,738.24 853.38,738.93 854.18,739.57 854.98,740.17 855.79,740.71 856.59,741.19 857.39,741.62 858.2,741.98 859,742.29" fill="none" stroke="#2a6b6c" stroke-width="7.6"/>
<polyline points="710.42,728.73 711.23,729.7 712.03,730.68 712.83,731.64 713.64,732.58 714.44,733.5 715.24,734.4 716.05,735.27 716.85,736.11 717.65,736.92 718.46,737.68 719.26,738.41 720.06,739.08 720.87,739.71 721.67,740.29 722.47,740.82 723.27,741.29 724.08,741.71 724.88,742.06 725.68,742.35 726.49,742.59 727.29,742.75" fill="none" stroke="#1b3a4b" stroke-width="7.6"/>
<polyline points="787.52,728.85 788.33,729.82 789.13,730.79 789.93,731.75 790.74,732.69 791.54,733.61 792.34,734.51 793.15,735.38 793.95,736.21 794.75,737.01 795.55,737.77 796.36,738.49 797.16,739.16 797.96,739.79 798.77,740.36 799.57,740.88 800.37,741.35 801.18,741.75 801.98,742.1 802.78,742.39 803.59,742.61 804.39,742.77" fill="none" stroke="#1b3a4b" stroke-width="7.6"/>
<path d="M459,722 V762.3 H547" fill="none" stroke="#2e4270" stroke-width="3"/>
<path d="M558,762.3 L545.5,756 L545.5,768.6 Z" fill="#2e4270"/>
<path d="M761.3,715 V763.5 H718" fill="none" stroke="#2e4270" stroke-width="3"/>
<path d="M707,763.5 L719.5,757.2 L719.5,769.8 Z" fill="#2e4270"/>
<rect x="415.7" y="684.2" width="123.1" height="34.3" rx="17.15" fill="#5ac04a"/>
<text x="428.9" y="709.3" font-size="19.91" fill="#eefbe6" text-anchor="start" textLength="92.4" lengthAdjust="spacingAndGlyphs">p65/c-Rel</text>
<rect x="358.5" y="683.3" width="61.6" height="34.3" rx="17.15" fill="#e8a83a" stroke="#f6d48a" stroke-width="1"/>
<text x="372.6" y="708.8" font-size="19.19" fill="#fdf3d6" text-anchor="start" textLength="33.41" lengthAdjust="spacingAndGlyphs">P50</text>
<rect x="712.8" y="685.4" width="54.8" height="28.9" rx="14.45" fill="#e8b03a" stroke="#f8dc98" stroke-width="0.8"/>
<text x="723.7" y="705.9" font-size="20.2" fill="#fdf3cc" text-anchor="start" textLength="34.31" lengthAdjust="spacingAndGlyphs">P52</text>
<rect x="767.6" y="685.4" width="58.9" height="29.5" rx="14.75" fill="#a83da3" stroke="#f3c8ec" stroke-width="0.8"/>
<text x="777.8" y="705.9" font-size="20.2" fill="#f8e4f4" text-anchor="start" textLength="38.49" lengthAdjust="spacingAndGlyphs">RelB</text>
<rect x="575.3" y="685.8" width="110.3" height="82.8" fill="#fdfdf8" stroke="#978741" stroke-width="4.4" stroke-dasharray="20.3,20.7"/>
<text x="595" y="722.4" font-size="23.6" font-weight="bold" fill="#0d0d0d" text-anchor="start" textLength="71.3" lengthAdjust="spacingAndGlyphs">Target</text>
<text x="601.9" y="749.3" font-size="23.6" font-weight="bold" fill="#0d0d0d" text-anchor="start" textLength="58.1" lengthAdjust="spacingAndGlyphs">Gene</text></svg>
</body></html>
